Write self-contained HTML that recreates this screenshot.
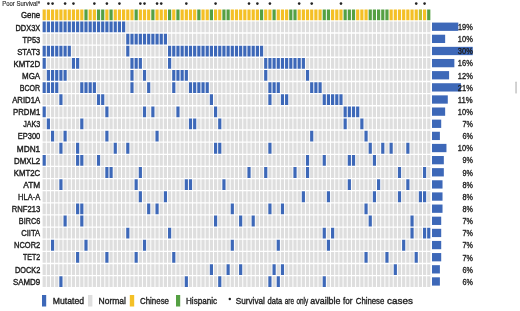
<!DOCTYPE html>
<html><head><meta charset="utf-8"><title>Oncoprint</title>
<style>
html,body{margin:0;padding:0;background:#fff;}
body{width:520px;height:311px;overflow:hidden;}
svg{display:block;}
text{font-family:"Liberation Sans",sans-serif;fill:#1e1e1e;}
.lab{font-size:8.8px;stroke:#1e1e1e;stroke-width:0.4px;}
.pct{font-size:8.8px;stroke:#1e1e1e;stroke-width:0.35px;}
.ps{font-size:6.6px;fill:#333;stroke:#333;stroke-width:0.18px;}
.leg{font-size:8.8px;stroke:#1e1e1e;stroke-width:0.35px;}
</style></head><body>
<svg width="520" height="311" viewBox="0 0 520 311">
<rect x="0" y="0" width="520" height="311" fill="#fff"/>
<path fill="#3D68B8" d="M42.60 21.53h3.2v10.8h-3.2zM46.78 21.53h3.2v10.8h-3.2zM50.96 21.53h3.2v10.8h-3.2zM55.14 21.53h3.2v10.8h-3.2zM59.32 21.53h3.2v10.8h-3.2zM63.50 21.53h3.2v10.8h-3.2zM67.68 21.53h3.2v10.8h-3.2zM71.86 21.53h3.2v10.8h-3.2zM76.04 21.53h3.2v10.8h-3.2zM80.22 21.53h3.2v10.8h-3.2zM84.40 21.53h3.2v10.8h-3.2zM88.58 21.53h3.2v10.8h-3.2zM92.76 21.53h3.2v10.8h-3.2zM96.94 21.53h3.2v10.8h-3.2zM101.12 21.53h3.2v10.8h-3.2zM105.30 21.53h3.2v10.8h-3.2zM109.48 21.53h3.2v10.8h-3.2zM113.66 21.53h3.2v10.8h-3.2zM117.84 21.53h3.2v10.8h-3.2zM122.02 21.53h3.2v10.8h-3.2zM126.20 33.66h3.2v10.8h-3.2zM130.38 33.66h3.2v10.8h-3.2zM134.56 33.66h3.2v10.8h-3.2zM138.74 33.66h3.2v10.8h-3.2zM142.92 33.66h3.2v10.8h-3.2zM147.10 33.66h3.2v10.8h-3.2zM151.28 33.66h3.2v10.8h-3.2zM155.46 33.66h3.2v10.8h-3.2zM159.64 33.66h3.2v10.8h-3.2zM163.82 33.66h3.2v10.8h-3.2zM42.60 45.79h3.2v10.8h-3.2zM46.78 45.79h3.2v10.8h-3.2zM50.96 45.79h3.2v10.8h-3.2zM55.14 45.79h3.2v10.8h-3.2zM59.32 45.79h3.2v10.8h-3.2zM63.50 45.79h3.2v10.8h-3.2zM67.68 45.79h3.2v10.8h-3.2zM126.20 45.79h3.2v10.8h-3.2zM168.00 45.79h3.2v10.8h-3.2zM172.18 45.79h3.2v10.8h-3.2zM176.36 45.79h3.2v10.8h-3.2zM180.54 45.79h3.2v10.8h-3.2zM184.72 45.79h3.2v10.8h-3.2zM188.90 45.79h3.2v10.8h-3.2zM193.08 45.79h3.2v10.8h-3.2zM197.26 45.79h3.2v10.8h-3.2zM201.44 45.79h3.2v10.8h-3.2zM205.62 45.79h3.2v10.8h-3.2zM209.80 45.79h3.2v10.8h-3.2zM213.98 45.79h3.2v10.8h-3.2zM218.16 45.79h3.2v10.8h-3.2zM222.34 45.79h3.2v10.8h-3.2zM226.52 45.79h3.2v10.8h-3.2zM230.70 45.79h3.2v10.8h-3.2zM234.88 45.79h3.2v10.8h-3.2zM239.06 45.79h3.2v10.8h-3.2zM243.24 45.79h3.2v10.8h-3.2zM247.42 45.79h3.2v10.8h-3.2zM251.60 45.79h3.2v10.8h-3.2zM255.78 45.79h3.2v10.8h-3.2zM259.96 45.79h3.2v10.8h-3.2zM42.60 57.92h3.2v10.8h-3.2zM71.86 57.92h3.2v10.8h-3.2zM76.04 57.92h3.2v10.8h-3.2zM130.38 57.92h3.2v10.8h-3.2zM134.56 57.92h3.2v10.8h-3.2zM138.74 57.92h3.2v10.8h-3.2zM168.00 57.92h3.2v10.8h-3.2zM264.14 57.92h3.2v10.8h-3.2zM268.32 57.92h3.2v10.8h-3.2zM272.50 57.92h3.2v10.8h-3.2zM276.68 57.92h3.2v10.8h-3.2zM280.86 57.92h3.2v10.8h-3.2zM285.04 57.92h3.2v10.8h-3.2zM289.22 57.92h3.2v10.8h-3.2zM293.40 57.92h3.2v10.8h-3.2zM297.58 57.92h3.2v10.8h-3.2zM301.76 57.92h3.2v10.8h-3.2zM46.78 70.05h3.2v10.8h-3.2zM50.96 70.05h3.2v10.8h-3.2zM55.14 70.05h3.2v10.8h-3.2zM59.32 70.05h3.2v10.8h-3.2zM63.50 70.05h3.2v10.8h-3.2zM130.38 70.05h3.2v10.8h-3.2zM142.92 70.05h3.2v10.8h-3.2zM172.18 70.05h3.2v10.8h-3.2zM176.36 70.05h3.2v10.8h-3.2zM180.54 70.05h3.2v10.8h-3.2zM184.72 70.05h3.2v10.8h-3.2zM264.14 70.05h3.2v10.8h-3.2zM305.94 70.05h3.2v10.8h-3.2zM42.60 82.18h3.2v10.8h-3.2zM46.78 82.18h3.2v10.8h-3.2zM50.96 82.18h3.2v10.8h-3.2zM55.14 82.18h3.2v10.8h-3.2zM80.22 82.18h3.2v10.8h-3.2zM84.40 82.18h3.2v10.8h-3.2zM88.58 82.18h3.2v10.8h-3.2zM92.76 82.18h3.2v10.8h-3.2zM130.38 82.18h3.2v10.8h-3.2zM147.10 82.18h3.2v10.8h-3.2zM172.18 82.18h3.2v10.8h-3.2zM188.90 82.18h3.2v10.8h-3.2zM193.08 82.18h3.2v10.8h-3.2zM197.26 82.18h3.2v10.8h-3.2zM201.44 82.18h3.2v10.8h-3.2zM205.62 82.18h3.2v10.8h-3.2zM268.32 82.18h3.2v10.8h-3.2zM272.50 82.18h3.2v10.8h-3.2zM276.68 82.18h3.2v10.8h-3.2zM310.12 82.18h3.2v10.8h-3.2zM314.30 82.18h3.2v10.8h-3.2zM318.48 82.18h3.2v10.8h-3.2zM59.32 94.31h3.2v10.8h-3.2zM96.94 94.31h3.2v10.8h-3.2zM101.12 94.31h3.2v10.8h-3.2zM209.80 94.31h3.2v10.8h-3.2zM268.32 94.31h3.2v10.8h-3.2zM280.86 94.31h3.2v10.8h-3.2zM285.04 94.31h3.2v10.8h-3.2zM322.66 94.31h3.2v10.8h-3.2zM326.84 94.31h3.2v10.8h-3.2zM331.02 94.31h3.2v10.8h-3.2zM335.20 94.31h3.2v10.8h-3.2zM339.38 94.31h3.2v10.8h-3.2zM42.60 106.44h3.2v10.8h-3.2zM105.30 106.44h3.2v10.8h-3.2zM142.92 106.44h3.2v10.8h-3.2zM151.28 106.44h3.2v10.8h-3.2zM176.36 106.44h3.2v10.8h-3.2zM213.98 106.44h3.2v10.8h-3.2zM343.56 106.44h3.2v10.8h-3.2zM347.74 106.44h3.2v10.8h-3.2zM351.92 106.44h3.2v10.8h-3.2zM356.10 106.44h3.2v10.8h-3.2zM46.78 118.57h3.2v10.8h-3.2zM80.22 118.57h3.2v10.8h-3.2zM188.90 118.57h3.2v10.8h-3.2zM193.08 118.57h3.2v10.8h-3.2zM218.16 118.57h3.2v10.8h-3.2zM343.56 118.57h3.2v10.8h-3.2zM360.28 118.57h3.2v10.8h-3.2zM50.96 130.70h3.2v10.8h-3.2zM63.50 130.70h3.2v10.8h-3.2zM105.30 130.70h3.2v10.8h-3.2zM155.46 130.70h3.2v10.8h-3.2zM310.12 130.70h3.2v10.8h-3.2zM364.46 130.70h3.2v10.8h-3.2zM59.32 142.83h3.2v10.8h-3.2zM76.04 142.83h3.2v10.8h-3.2zM113.66 142.83h3.2v10.8h-3.2zM126.20 142.83h3.2v10.8h-3.2zM213.98 142.83h3.2v10.8h-3.2zM218.16 142.83h3.2v10.8h-3.2zM268.32 142.83h3.2v10.8h-3.2zM368.64 142.83h3.2v10.8h-3.2zM381.18 142.83h3.2v10.8h-3.2zM389.54 142.83h3.2v10.8h-3.2zM406.26 142.83h3.2v10.8h-3.2zM42.60 154.96h3.2v10.8h-3.2zM76.04 154.96h3.2v10.8h-3.2zM80.22 154.96h3.2v10.8h-3.2zM96.94 154.96h3.2v10.8h-3.2zM305.94 154.96h3.2v10.8h-3.2zM322.66 154.96h3.2v10.8h-3.2zM347.74 154.96h3.2v10.8h-3.2zM351.92 154.96h3.2v10.8h-3.2zM372.82 154.96h3.2v10.8h-3.2zM105.30 167.09h3.2v10.8h-3.2zM109.48 167.09h3.2v10.8h-3.2zM138.74 167.09h3.2v10.8h-3.2zM247.42 167.09h3.2v10.8h-3.2zM264.14 167.09h3.2v10.8h-3.2zM293.40 167.09h3.2v10.8h-3.2zM305.94 167.09h3.2v10.8h-3.2zM397.90 167.09h3.2v10.8h-3.2zM422.98 167.09h3.2v10.8h-3.2zM59.32 179.22h3.2v10.8h-3.2zM134.56 179.22h3.2v10.8h-3.2zM184.72 179.22h3.2v10.8h-3.2zM188.90 179.22h3.2v10.8h-3.2zM222.34 179.22h3.2v10.8h-3.2zM347.74 179.22h3.2v10.8h-3.2zM377.00 179.22h3.2v10.8h-3.2zM406.26 179.22h3.2v10.8h-3.2zM138.74 191.35h3.2v10.8h-3.2zM163.82 191.35h3.2v10.8h-3.2zM301.76 191.35h3.2v10.8h-3.2zM326.84 191.35h3.2v10.8h-3.2zM372.82 191.35h3.2v10.8h-3.2zM397.90 191.35h3.2v10.8h-3.2zM418.80 191.35h3.2v10.8h-3.2zM422.98 191.35h3.2v10.8h-3.2zM76.04 203.48h3.2v10.8h-3.2zM80.22 203.48h3.2v10.8h-3.2zM147.10 203.48h3.2v10.8h-3.2zM155.46 203.48h3.2v10.8h-3.2zM230.70 203.48h3.2v10.8h-3.2zM268.32 203.48h3.2v10.8h-3.2zM280.86 203.48h3.2v10.8h-3.2zM364.46 203.48h3.2v10.8h-3.2zM63.50 215.61h3.2v10.8h-3.2zM80.22 215.61h3.2v10.8h-3.2zM213.98 215.61h3.2v10.8h-3.2zM239.06 215.61h3.2v10.8h-3.2zM251.60 215.61h3.2v10.8h-3.2zM368.64 215.61h3.2v10.8h-3.2zM410.44 215.61h3.2v10.8h-3.2zM126.20 227.74h3.2v10.8h-3.2zM168.00 227.74h3.2v10.8h-3.2zM322.66 227.74h3.2v10.8h-3.2zM331.02 227.74h3.2v10.8h-3.2zM410.44 227.74h3.2v10.8h-3.2zM422.98 227.74h3.2v10.8h-3.2zM427.16 227.74h3.2v10.8h-3.2zM50.96 239.87h3.2v10.8h-3.2zM84.40 239.87h3.2v10.8h-3.2zM142.92 239.87h3.2v10.8h-3.2zM230.70 239.87h3.2v10.8h-3.2zM276.68 239.87h3.2v10.8h-3.2zM326.84 239.87h3.2v10.8h-3.2zM402.08 239.87h3.2v10.8h-3.2zM76.04 252.00h3.2v10.8h-3.2zM105.30 252.00h3.2v10.8h-3.2zM134.56 252.00h3.2v10.8h-3.2zM172.18 252.00h3.2v10.8h-3.2zM364.46 252.00h3.2v10.8h-3.2zM385.36 252.00h3.2v10.8h-3.2zM414.62 252.00h3.2v10.8h-3.2zM209.80 264.13h3.2v10.8h-3.2zM226.52 264.13h3.2v10.8h-3.2zM239.06 264.13h3.2v10.8h-3.2zM272.50 264.13h3.2v10.8h-3.2zM280.86 264.13h3.2v10.8h-3.2zM393.72 264.13h3.2v10.8h-3.2zM59.32 276.26h3.2v10.8h-3.2zM184.72 276.26h3.2v10.8h-3.2zM218.16 276.26h3.2v10.8h-3.2zM268.32 276.26h3.2v10.8h-3.2zM276.68 276.26h3.2v10.8h-3.2zM322.66 276.26h3.2v10.8h-3.2z"/>
<path fill="#DEDEDE" d="M126.20 21.53h3.2v10.8h-3.2zM130.38 21.53h3.2v10.8h-3.2zM134.56 21.53h3.2v10.8h-3.2zM138.74 21.53h3.2v10.8h-3.2zM142.92 21.53h3.2v10.8h-3.2zM147.10 21.53h3.2v10.8h-3.2zM151.28 21.53h3.2v10.8h-3.2zM155.46 21.53h3.2v10.8h-3.2zM159.64 21.53h3.2v10.8h-3.2zM163.82 21.53h3.2v10.8h-3.2zM168.00 21.53h3.2v10.8h-3.2zM172.18 21.53h3.2v10.8h-3.2zM176.36 21.53h3.2v10.8h-3.2zM180.54 21.53h3.2v10.8h-3.2zM184.72 21.53h3.2v10.8h-3.2zM188.90 21.53h3.2v10.8h-3.2zM193.08 21.53h3.2v10.8h-3.2zM197.26 21.53h3.2v10.8h-3.2zM201.44 21.53h3.2v10.8h-3.2zM205.62 21.53h3.2v10.8h-3.2zM209.80 21.53h3.2v10.8h-3.2zM213.98 21.53h3.2v10.8h-3.2zM218.16 21.53h3.2v10.8h-3.2zM222.34 21.53h3.2v10.8h-3.2zM226.52 21.53h3.2v10.8h-3.2zM230.70 21.53h3.2v10.8h-3.2zM234.88 21.53h3.2v10.8h-3.2zM239.06 21.53h3.2v10.8h-3.2zM243.24 21.53h3.2v10.8h-3.2zM247.42 21.53h3.2v10.8h-3.2zM251.60 21.53h3.2v10.8h-3.2zM255.78 21.53h3.2v10.8h-3.2zM259.96 21.53h3.2v10.8h-3.2zM264.14 21.53h3.2v10.8h-3.2zM268.32 21.53h3.2v10.8h-3.2zM272.50 21.53h3.2v10.8h-3.2zM276.68 21.53h3.2v10.8h-3.2zM280.86 21.53h3.2v10.8h-3.2zM285.04 21.53h3.2v10.8h-3.2zM289.22 21.53h3.2v10.8h-3.2zM293.40 21.53h3.2v10.8h-3.2zM297.58 21.53h3.2v10.8h-3.2zM301.76 21.53h3.2v10.8h-3.2zM305.94 21.53h3.2v10.8h-3.2zM310.12 21.53h3.2v10.8h-3.2zM314.30 21.53h3.2v10.8h-3.2zM318.48 21.53h3.2v10.8h-3.2zM322.66 21.53h3.2v10.8h-3.2zM326.84 21.53h3.2v10.8h-3.2zM331.02 21.53h3.2v10.8h-3.2zM335.20 21.53h3.2v10.8h-3.2zM339.38 21.53h3.2v10.8h-3.2zM343.56 21.53h3.2v10.8h-3.2zM347.74 21.53h3.2v10.8h-3.2zM351.92 21.53h3.2v10.8h-3.2zM356.10 21.53h3.2v10.8h-3.2zM360.28 21.53h3.2v10.8h-3.2zM364.46 21.53h3.2v10.8h-3.2zM368.64 21.53h3.2v10.8h-3.2zM372.82 21.53h3.2v10.8h-3.2zM377.00 21.53h3.2v10.8h-3.2zM381.18 21.53h3.2v10.8h-3.2zM385.36 21.53h3.2v10.8h-3.2zM389.54 21.53h3.2v10.8h-3.2zM393.72 21.53h3.2v10.8h-3.2zM397.90 21.53h3.2v10.8h-3.2zM402.08 21.53h3.2v10.8h-3.2zM406.26 21.53h3.2v10.8h-3.2zM410.44 21.53h3.2v10.8h-3.2zM414.62 21.53h3.2v10.8h-3.2zM418.80 21.53h3.2v10.8h-3.2zM422.98 21.53h3.2v10.8h-3.2zM427.16 21.53h3.2v10.8h-3.2zM42.60 33.66h3.2v10.8h-3.2zM46.78 33.66h3.2v10.8h-3.2zM50.96 33.66h3.2v10.8h-3.2zM55.14 33.66h3.2v10.8h-3.2zM59.32 33.66h3.2v10.8h-3.2zM63.50 33.66h3.2v10.8h-3.2zM67.68 33.66h3.2v10.8h-3.2zM71.86 33.66h3.2v10.8h-3.2zM76.04 33.66h3.2v10.8h-3.2zM80.22 33.66h3.2v10.8h-3.2zM84.40 33.66h3.2v10.8h-3.2zM88.58 33.66h3.2v10.8h-3.2zM92.76 33.66h3.2v10.8h-3.2zM96.94 33.66h3.2v10.8h-3.2zM101.12 33.66h3.2v10.8h-3.2zM105.30 33.66h3.2v10.8h-3.2zM109.48 33.66h3.2v10.8h-3.2zM113.66 33.66h3.2v10.8h-3.2zM117.84 33.66h3.2v10.8h-3.2zM122.02 33.66h3.2v10.8h-3.2zM168.00 33.66h3.2v10.8h-3.2zM172.18 33.66h3.2v10.8h-3.2zM176.36 33.66h3.2v10.8h-3.2zM180.54 33.66h3.2v10.8h-3.2zM184.72 33.66h3.2v10.8h-3.2zM188.90 33.66h3.2v10.8h-3.2zM193.08 33.66h3.2v10.8h-3.2zM197.26 33.66h3.2v10.8h-3.2zM201.44 33.66h3.2v10.8h-3.2zM205.62 33.66h3.2v10.8h-3.2zM209.80 33.66h3.2v10.8h-3.2zM213.98 33.66h3.2v10.8h-3.2zM218.16 33.66h3.2v10.8h-3.2zM222.34 33.66h3.2v10.8h-3.2zM226.52 33.66h3.2v10.8h-3.2zM230.70 33.66h3.2v10.8h-3.2zM234.88 33.66h3.2v10.8h-3.2zM239.06 33.66h3.2v10.8h-3.2zM243.24 33.66h3.2v10.8h-3.2zM247.42 33.66h3.2v10.8h-3.2zM251.60 33.66h3.2v10.8h-3.2zM255.78 33.66h3.2v10.8h-3.2zM259.96 33.66h3.2v10.8h-3.2zM264.14 33.66h3.2v10.8h-3.2zM268.32 33.66h3.2v10.8h-3.2zM272.50 33.66h3.2v10.8h-3.2zM276.68 33.66h3.2v10.8h-3.2zM280.86 33.66h3.2v10.8h-3.2zM285.04 33.66h3.2v10.8h-3.2zM289.22 33.66h3.2v10.8h-3.2zM293.40 33.66h3.2v10.8h-3.2zM297.58 33.66h3.2v10.8h-3.2zM301.76 33.66h3.2v10.8h-3.2zM305.94 33.66h3.2v10.8h-3.2zM310.12 33.66h3.2v10.8h-3.2zM314.30 33.66h3.2v10.8h-3.2zM318.48 33.66h3.2v10.8h-3.2zM322.66 33.66h3.2v10.8h-3.2zM326.84 33.66h3.2v10.8h-3.2zM331.02 33.66h3.2v10.8h-3.2zM335.20 33.66h3.2v10.8h-3.2zM339.38 33.66h3.2v10.8h-3.2zM343.56 33.66h3.2v10.8h-3.2zM347.74 33.66h3.2v10.8h-3.2zM351.92 33.66h3.2v10.8h-3.2zM356.10 33.66h3.2v10.8h-3.2zM360.28 33.66h3.2v10.8h-3.2zM364.46 33.66h3.2v10.8h-3.2zM368.64 33.66h3.2v10.8h-3.2zM372.82 33.66h3.2v10.8h-3.2zM377.00 33.66h3.2v10.8h-3.2zM381.18 33.66h3.2v10.8h-3.2zM385.36 33.66h3.2v10.8h-3.2zM389.54 33.66h3.2v10.8h-3.2zM393.72 33.66h3.2v10.8h-3.2zM397.90 33.66h3.2v10.8h-3.2zM402.08 33.66h3.2v10.8h-3.2zM406.26 33.66h3.2v10.8h-3.2zM410.44 33.66h3.2v10.8h-3.2zM414.62 33.66h3.2v10.8h-3.2zM418.80 33.66h3.2v10.8h-3.2zM422.98 33.66h3.2v10.8h-3.2zM427.16 33.66h3.2v10.8h-3.2zM71.86 45.79h3.2v10.8h-3.2zM76.04 45.79h3.2v10.8h-3.2zM80.22 45.79h3.2v10.8h-3.2zM84.40 45.79h3.2v10.8h-3.2zM88.58 45.79h3.2v10.8h-3.2zM92.76 45.79h3.2v10.8h-3.2zM96.94 45.79h3.2v10.8h-3.2zM101.12 45.79h3.2v10.8h-3.2zM105.30 45.79h3.2v10.8h-3.2zM109.48 45.79h3.2v10.8h-3.2zM113.66 45.79h3.2v10.8h-3.2zM117.84 45.79h3.2v10.8h-3.2zM122.02 45.79h3.2v10.8h-3.2zM130.38 45.79h3.2v10.8h-3.2zM134.56 45.79h3.2v10.8h-3.2zM138.74 45.79h3.2v10.8h-3.2zM142.92 45.79h3.2v10.8h-3.2zM147.10 45.79h3.2v10.8h-3.2zM151.28 45.79h3.2v10.8h-3.2zM155.46 45.79h3.2v10.8h-3.2zM159.64 45.79h3.2v10.8h-3.2zM163.82 45.79h3.2v10.8h-3.2zM264.14 45.79h3.2v10.8h-3.2zM268.32 45.79h3.2v10.8h-3.2zM272.50 45.79h3.2v10.8h-3.2zM276.68 45.79h3.2v10.8h-3.2zM280.86 45.79h3.2v10.8h-3.2zM285.04 45.79h3.2v10.8h-3.2zM289.22 45.79h3.2v10.8h-3.2zM293.40 45.79h3.2v10.8h-3.2zM297.58 45.79h3.2v10.8h-3.2zM301.76 45.79h3.2v10.8h-3.2zM305.94 45.79h3.2v10.8h-3.2zM310.12 45.79h3.2v10.8h-3.2zM314.30 45.79h3.2v10.8h-3.2zM318.48 45.79h3.2v10.8h-3.2zM322.66 45.79h3.2v10.8h-3.2zM326.84 45.79h3.2v10.8h-3.2zM331.02 45.79h3.2v10.8h-3.2zM335.20 45.79h3.2v10.8h-3.2zM339.38 45.79h3.2v10.8h-3.2zM343.56 45.79h3.2v10.8h-3.2zM347.74 45.79h3.2v10.8h-3.2zM351.92 45.79h3.2v10.8h-3.2zM356.10 45.79h3.2v10.8h-3.2zM360.28 45.79h3.2v10.8h-3.2zM364.46 45.79h3.2v10.8h-3.2zM368.64 45.79h3.2v10.8h-3.2zM372.82 45.79h3.2v10.8h-3.2zM377.00 45.79h3.2v10.8h-3.2zM381.18 45.79h3.2v10.8h-3.2zM385.36 45.79h3.2v10.8h-3.2zM389.54 45.79h3.2v10.8h-3.2zM393.72 45.79h3.2v10.8h-3.2zM397.90 45.79h3.2v10.8h-3.2zM402.08 45.79h3.2v10.8h-3.2zM406.26 45.79h3.2v10.8h-3.2zM410.44 45.79h3.2v10.8h-3.2zM414.62 45.79h3.2v10.8h-3.2zM418.80 45.79h3.2v10.8h-3.2zM422.98 45.79h3.2v10.8h-3.2zM427.16 45.79h3.2v10.8h-3.2zM46.78 57.92h3.2v10.8h-3.2zM50.96 57.92h3.2v10.8h-3.2zM55.14 57.92h3.2v10.8h-3.2zM59.32 57.92h3.2v10.8h-3.2zM63.50 57.92h3.2v10.8h-3.2zM67.68 57.92h3.2v10.8h-3.2zM80.22 57.92h3.2v10.8h-3.2zM84.40 57.92h3.2v10.8h-3.2zM88.58 57.92h3.2v10.8h-3.2zM92.76 57.92h3.2v10.8h-3.2zM96.94 57.92h3.2v10.8h-3.2zM101.12 57.92h3.2v10.8h-3.2zM105.30 57.92h3.2v10.8h-3.2zM109.48 57.92h3.2v10.8h-3.2zM113.66 57.92h3.2v10.8h-3.2zM117.84 57.92h3.2v10.8h-3.2zM122.02 57.92h3.2v10.8h-3.2zM126.20 57.92h3.2v10.8h-3.2zM142.92 57.92h3.2v10.8h-3.2zM147.10 57.92h3.2v10.8h-3.2zM151.28 57.92h3.2v10.8h-3.2zM155.46 57.92h3.2v10.8h-3.2zM159.64 57.92h3.2v10.8h-3.2zM163.82 57.92h3.2v10.8h-3.2zM172.18 57.92h3.2v10.8h-3.2zM176.36 57.92h3.2v10.8h-3.2zM180.54 57.92h3.2v10.8h-3.2zM184.72 57.92h3.2v10.8h-3.2zM188.90 57.92h3.2v10.8h-3.2zM193.08 57.92h3.2v10.8h-3.2zM197.26 57.92h3.2v10.8h-3.2zM201.44 57.92h3.2v10.8h-3.2zM205.62 57.92h3.2v10.8h-3.2zM209.80 57.92h3.2v10.8h-3.2zM213.98 57.92h3.2v10.8h-3.2zM218.16 57.92h3.2v10.8h-3.2zM222.34 57.92h3.2v10.8h-3.2zM226.52 57.92h3.2v10.8h-3.2zM230.70 57.92h3.2v10.8h-3.2zM234.88 57.92h3.2v10.8h-3.2zM239.06 57.92h3.2v10.8h-3.2zM243.24 57.92h3.2v10.8h-3.2zM247.42 57.92h3.2v10.8h-3.2zM251.60 57.92h3.2v10.8h-3.2zM255.78 57.92h3.2v10.8h-3.2zM259.96 57.92h3.2v10.8h-3.2zM305.94 57.92h3.2v10.8h-3.2zM310.12 57.92h3.2v10.8h-3.2zM314.30 57.92h3.2v10.8h-3.2zM318.48 57.92h3.2v10.8h-3.2zM322.66 57.92h3.2v10.8h-3.2zM326.84 57.92h3.2v10.8h-3.2zM331.02 57.92h3.2v10.8h-3.2zM335.20 57.92h3.2v10.8h-3.2zM339.38 57.92h3.2v10.8h-3.2zM343.56 57.92h3.2v10.8h-3.2zM347.74 57.92h3.2v10.8h-3.2zM351.92 57.92h3.2v10.8h-3.2zM356.10 57.92h3.2v10.8h-3.2zM360.28 57.92h3.2v10.8h-3.2zM364.46 57.92h3.2v10.8h-3.2zM368.64 57.92h3.2v10.8h-3.2zM372.82 57.92h3.2v10.8h-3.2zM377.00 57.92h3.2v10.8h-3.2zM381.18 57.92h3.2v10.8h-3.2zM385.36 57.92h3.2v10.8h-3.2zM389.54 57.92h3.2v10.8h-3.2zM393.72 57.92h3.2v10.8h-3.2zM397.90 57.92h3.2v10.8h-3.2zM402.08 57.92h3.2v10.8h-3.2zM406.26 57.92h3.2v10.8h-3.2zM410.44 57.92h3.2v10.8h-3.2zM414.62 57.92h3.2v10.8h-3.2zM418.80 57.92h3.2v10.8h-3.2zM422.98 57.92h3.2v10.8h-3.2zM427.16 57.92h3.2v10.8h-3.2zM42.60 70.05h3.2v10.8h-3.2zM67.68 70.05h3.2v10.8h-3.2zM71.86 70.05h3.2v10.8h-3.2zM76.04 70.05h3.2v10.8h-3.2zM80.22 70.05h3.2v10.8h-3.2zM84.40 70.05h3.2v10.8h-3.2zM88.58 70.05h3.2v10.8h-3.2zM92.76 70.05h3.2v10.8h-3.2zM96.94 70.05h3.2v10.8h-3.2zM101.12 70.05h3.2v10.8h-3.2zM105.30 70.05h3.2v10.8h-3.2zM109.48 70.05h3.2v10.8h-3.2zM113.66 70.05h3.2v10.8h-3.2zM117.84 70.05h3.2v10.8h-3.2zM122.02 70.05h3.2v10.8h-3.2zM126.20 70.05h3.2v10.8h-3.2zM134.56 70.05h3.2v10.8h-3.2zM138.74 70.05h3.2v10.8h-3.2zM147.10 70.05h3.2v10.8h-3.2zM151.28 70.05h3.2v10.8h-3.2zM155.46 70.05h3.2v10.8h-3.2zM159.64 70.05h3.2v10.8h-3.2zM163.82 70.05h3.2v10.8h-3.2zM168.00 70.05h3.2v10.8h-3.2zM188.90 70.05h3.2v10.8h-3.2zM193.08 70.05h3.2v10.8h-3.2zM197.26 70.05h3.2v10.8h-3.2zM201.44 70.05h3.2v10.8h-3.2zM205.62 70.05h3.2v10.8h-3.2zM209.80 70.05h3.2v10.8h-3.2zM213.98 70.05h3.2v10.8h-3.2zM218.16 70.05h3.2v10.8h-3.2zM222.34 70.05h3.2v10.8h-3.2zM226.52 70.05h3.2v10.8h-3.2zM230.70 70.05h3.2v10.8h-3.2zM234.88 70.05h3.2v10.8h-3.2zM239.06 70.05h3.2v10.8h-3.2zM243.24 70.05h3.2v10.8h-3.2zM247.42 70.05h3.2v10.8h-3.2zM251.60 70.05h3.2v10.8h-3.2zM255.78 70.05h3.2v10.8h-3.2zM259.96 70.05h3.2v10.8h-3.2zM268.32 70.05h3.2v10.8h-3.2zM272.50 70.05h3.2v10.8h-3.2zM276.68 70.05h3.2v10.8h-3.2zM280.86 70.05h3.2v10.8h-3.2zM285.04 70.05h3.2v10.8h-3.2zM289.22 70.05h3.2v10.8h-3.2zM293.40 70.05h3.2v10.8h-3.2zM297.58 70.05h3.2v10.8h-3.2zM301.76 70.05h3.2v10.8h-3.2zM310.12 70.05h3.2v10.8h-3.2zM314.30 70.05h3.2v10.8h-3.2zM318.48 70.05h3.2v10.8h-3.2zM322.66 70.05h3.2v10.8h-3.2zM326.84 70.05h3.2v10.8h-3.2zM331.02 70.05h3.2v10.8h-3.2zM335.20 70.05h3.2v10.8h-3.2zM339.38 70.05h3.2v10.8h-3.2zM343.56 70.05h3.2v10.8h-3.2zM347.74 70.05h3.2v10.8h-3.2zM351.92 70.05h3.2v10.8h-3.2zM356.10 70.05h3.2v10.8h-3.2zM360.28 70.05h3.2v10.8h-3.2zM364.46 70.05h3.2v10.8h-3.2zM368.64 70.05h3.2v10.8h-3.2zM372.82 70.05h3.2v10.8h-3.2zM377.00 70.05h3.2v10.8h-3.2zM381.18 70.05h3.2v10.8h-3.2zM385.36 70.05h3.2v10.8h-3.2zM389.54 70.05h3.2v10.8h-3.2zM393.72 70.05h3.2v10.8h-3.2zM397.90 70.05h3.2v10.8h-3.2zM402.08 70.05h3.2v10.8h-3.2zM406.26 70.05h3.2v10.8h-3.2zM410.44 70.05h3.2v10.8h-3.2zM414.62 70.05h3.2v10.8h-3.2zM418.80 70.05h3.2v10.8h-3.2zM422.98 70.05h3.2v10.8h-3.2zM427.16 70.05h3.2v10.8h-3.2zM59.32 82.18h3.2v10.8h-3.2zM63.50 82.18h3.2v10.8h-3.2zM67.68 82.18h3.2v10.8h-3.2zM71.86 82.18h3.2v10.8h-3.2zM76.04 82.18h3.2v10.8h-3.2zM96.94 82.18h3.2v10.8h-3.2zM101.12 82.18h3.2v10.8h-3.2zM105.30 82.18h3.2v10.8h-3.2zM109.48 82.18h3.2v10.8h-3.2zM113.66 82.18h3.2v10.8h-3.2zM117.84 82.18h3.2v10.8h-3.2zM122.02 82.18h3.2v10.8h-3.2zM126.20 82.18h3.2v10.8h-3.2zM134.56 82.18h3.2v10.8h-3.2zM138.74 82.18h3.2v10.8h-3.2zM142.92 82.18h3.2v10.8h-3.2zM151.28 82.18h3.2v10.8h-3.2zM155.46 82.18h3.2v10.8h-3.2zM159.64 82.18h3.2v10.8h-3.2zM163.82 82.18h3.2v10.8h-3.2zM168.00 82.18h3.2v10.8h-3.2zM176.36 82.18h3.2v10.8h-3.2zM180.54 82.18h3.2v10.8h-3.2zM184.72 82.18h3.2v10.8h-3.2zM209.80 82.18h3.2v10.8h-3.2zM213.98 82.18h3.2v10.8h-3.2zM218.16 82.18h3.2v10.8h-3.2zM222.34 82.18h3.2v10.8h-3.2zM226.52 82.18h3.2v10.8h-3.2zM230.70 82.18h3.2v10.8h-3.2zM234.88 82.18h3.2v10.8h-3.2zM239.06 82.18h3.2v10.8h-3.2zM243.24 82.18h3.2v10.8h-3.2zM247.42 82.18h3.2v10.8h-3.2zM251.60 82.18h3.2v10.8h-3.2zM255.78 82.18h3.2v10.8h-3.2zM259.96 82.18h3.2v10.8h-3.2zM264.14 82.18h3.2v10.8h-3.2zM280.86 82.18h3.2v10.8h-3.2zM285.04 82.18h3.2v10.8h-3.2zM289.22 82.18h3.2v10.8h-3.2zM293.40 82.18h3.2v10.8h-3.2zM297.58 82.18h3.2v10.8h-3.2zM301.76 82.18h3.2v10.8h-3.2zM305.94 82.18h3.2v10.8h-3.2zM322.66 82.18h3.2v10.8h-3.2zM326.84 82.18h3.2v10.8h-3.2zM331.02 82.18h3.2v10.8h-3.2zM335.20 82.18h3.2v10.8h-3.2zM339.38 82.18h3.2v10.8h-3.2zM343.56 82.18h3.2v10.8h-3.2zM347.74 82.18h3.2v10.8h-3.2zM351.92 82.18h3.2v10.8h-3.2zM356.10 82.18h3.2v10.8h-3.2zM360.28 82.18h3.2v10.8h-3.2zM364.46 82.18h3.2v10.8h-3.2zM368.64 82.18h3.2v10.8h-3.2zM372.82 82.18h3.2v10.8h-3.2zM377.00 82.18h3.2v10.8h-3.2zM381.18 82.18h3.2v10.8h-3.2zM385.36 82.18h3.2v10.8h-3.2zM389.54 82.18h3.2v10.8h-3.2zM393.72 82.18h3.2v10.8h-3.2zM397.90 82.18h3.2v10.8h-3.2zM402.08 82.18h3.2v10.8h-3.2zM406.26 82.18h3.2v10.8h-3.2zM410.44 82.18h3.2v10.8h-3.2zM414.62 82.18h3.2v10.8h-3.2zM418.80 82.18h3.2v10.8h-3.2zM422.98 82.18h3.2v10.8h-3.2zM427.16 82.18h3.2v10.8h-3.2zM42.60 94.31h3.2v10.8h-3.2zM46.78 94.31h3.2v10.8h-3.2zM50.96 94.31h3.2v10.8h-3.2zM55.14 94.31h3.2v10.8h-3.2zM63.50 94.31h3.2v10.8h-3.2zM67.68 94.31h3.2v10.8h-3.2zM71.86 94.31h3.2v10.8h-3.2zM76.04 94.31h3.2v10.8h-3.2zM80.22 94.31h3.2v10.8h-3.2zM84.40 94.31h3.2v10.8h-3.2zM88.58 94.31h3.2v10.8h-3.2zM92.76 94.31h3.2v10.8h-3.2zM105.30 94.31h3.2v10.8h-3.2zM109.48 94.31h3.2v10.8h-3.2zM113.66 94.31h3.2v10.8h-3.2zM117.84 94.31h3.2v10.8h-3.2zM122.02 94.31h3.2v10.8h-3.2zM126.20 94.31h3.2v10.8h-3.2zM130.38 94.31h3.2v10.8h-3.2zM134.56 94.31h3.2v10.8h-3.2zM138.74 94.31h3.2v10.8h-3.2zM142.92 94.31h3.2v10.8h-3.2zM147.10 94.31h3.2v10.8h-3.2zM151.28 94.31h3.2v10.8h-3.2zM155.46 94.31h3.2v10.8h-3.2zM159.64 94.31h3.2v10.8h-3.2zM163.82 94.31h3.2v10.8h-3.2zM168.00 94.31h3.2v10.8h-3.2zM172.18 94.31h3.2v10.8h-3.2zM176.36 94.31h3.2v10.8h-3.2zM180.54 94.31h3.2v10.8h-3.2zM184.72 94.31h3.2v10.8h-3.2zM188.90 94.31h3.2v10.8h-3.2zM193.08 94.31h3.2v10.8h-3.2zM197.26 94.31h3.2v10.8h-3.2zM201.44 94.31h3.2v10.8h-3.2zM205.62 94.31h3.2v10.8h-3.2zM213.98 94.31h3.2v10.8h-3.2zM218.16 94.31h3.2v10.8h-3.2zM222.34 94.31h3.2v10.8h-3.2zM226.52 94.31h3.2v10.8h-3.2zM230.70 94.31h3.2v10.8h-3.2zM234.88 94.31h3.2v10.8h-3.2zM239.06 94.31h3.2v10.8h-3.2zM243.24 94.31h3.2v10.8h-3.2zM247.42 94.31h3.2v10.8h-3.2zM251.60 94.31h3.2v10.8h-3.2zM255.78 94.31h3.2v10.8h-3.2zM259.96 94.31h3.2v10.8h-3.2zM264.14 94.31h3.2v10.8h-3.2zM272.50 94.31h3.2v10.8h-3.2zM276.68 94.31h3.2v10.8h-3.2zM289.22 94.31h3.2v10.8h-3.2zM293.40 94.31h3.2v10.8h-3.2zM297.58 94.31h3.2v10.8h-3.2zM301.76 94.31h3.2v10.8h-3.2zM305.94 94.31h3.2v10.8h-3.2zM310.12 94.31h3.2v10.8h-3.2zM314.30 94.31h3.2v10.8h-3.2zM318.48 94.31h3.2v10.8h-3.2zM343.56 94.31h3.2v10.8h-3.2zM347.74 94.31h3.2v10.8h-3.2zM351.92 94.31h3.2v10.8h-3.2zM356.10 94.31h3.2v10.8h-3.2zM360.28 94.31h3.2v10.8h-3.2zM364.46 94.31h3.2v10.8h-3.2zM368.64 94.31h3.2v10.8h-3.2zM372.82 94.31h3.2v10.8h-3.2zM377.00 94.31h3.2v10.8h-3.2zM381.18 94.31h3.2v10.8h-3.2zM385.36 94.31h3.2v10.8h-3.2zM389.54 94.31h3.2v10.8h-3.2zM393.72 94.31h3.2v10.8h-3.2zM397.90 94.31h3.2v10.8h-3.2zM402.08 94.31h3.2v10.8h-3.2zM406.26 94.31h3.2v10.8h-3.2zM410.44 94.31h3.2v10.8h-3.2zM414.62 94.31h3.2v10.8h-3.2zM418.80 94.31h3.2v10.8h-3.2zM422.98 94.31h3.2v10.8h-3.2zM427.16 94.31h3.2v10.8h-3.2zM46.78 106.44h3.2v10.8h-3.2zM50.96 106.44h3.2v10.8h-3.2zM55.14 106.44h3.2v10.8h-3.2zM59.32 106.44h3.2v10.8h-3.2zM63.50 106.44h3.2v10.8h-3.2zM67.68 106.44h3.2v10.8h-3.2zM71.86 106.44h3.2v10.8h-3.2zM76.04 106.44h3.2v10.8h-3.2zM80.22 106.44h3.2v10.8h-3.2zM84.40 106.44h3.2v10.8h-3.2zM88.58 106.44h3.2v10.8h-3.2zM92.76 106.44h3.2v10.8h-3.2zM96.94 106.44h3.2v10.8h-3.2zM101.12 106.44h3.2v10.8h-3.2zM109.48 106.44h3.2v10.8h-3.2zM113.66 106.44h3.2v10.8h-3.2zM117.84 106.44h3.2v10.8h-3.2zM122.02 106.44h3.2v10.8h-3.2zM126.20 106.44h3.2v10.8h-3.2zM130.38 106.44h3.2v10.8h-3.2zM134.56 106.44h3.2v10.8h-3.2zM138.74 106.44h3.2v10.8h-3.2zM147.10 106.44h3.2v10.8h-3.2zM155.46 106.44h3.2v10.8h-3.2zM159.64 106.44h3.2v10.8h-3.2zM163.82 106.44h3.2v10.8h-3.2zM168.00 106.44h3.2v10.8h-3.2zM172.18 106.44h3.2v10.8h-3.2zM180.54 106.44h3.2v10.8h-3.2zM184.72 106.44h3.2v10.8h-3.2zM188.90 106.44h3.2v10.8h-3.2zM193.08 106.44h3.2v10.8h-3.2zM197.26 106.44h3.2v10.8h-3.2zM201.44 106.44h3.2v10.8h-3.2zM205.62 106.44h3.2v10.8h-3.2zM209.80 106.44h3.2v10.8h-3.2zM218.16 106.44h3.2v10.8h-3.2zM222.34 106.44h3.2v10.8h-3.2zM226.52 106.44h3.2v10.8h-3.2zM230.70 106.44h3.2v10.8h-3.2zM234.88 106.44h3.2v10.8h-3.2zM239.06 106.44h3.2v10.8h-3.2zM243.24 106.44h3.2v10.8h-3.2zM247.42 106.44h3.2v10.8h-3.2zM251.60 106.44h3.2v10.8h-3.2zM255.78 106.44h3.2v10.8h-3.2zM259.96 106.44h3.2v10.8h-3.2zM264.14 106.44h3.2v10.8h-3.2zM268.32 106.44h3.2v10.8h-3.2zM272.50 106.44h3.2v10.8h-3.2zM276.68 106.44h3.2v10.8h-3.2zM280.86 106.44h3.2v10.8h-3.2zM285.04 106.44h3.2v10.8h-3.2zM289.22 106.44h3.2v10.8h-3.2zM293.40 106.44h3.2v10.8h-3.2zM297.58 106.44h3.2v10.8h-3.2zM301.76 106.44h3.2v10.8h-3.2zM305.94 106.44h3.2v10.8h-3.2zM310.12 106.44h3.2v10.8h-3.2zM314.30 106.44h3.2v10.8h-3.2zM318.48 106.44h3.2v10.8h-3.2zM322.66 106.44h3.2v10.8h-3.2zM326.84 106.44h3.2v10.8h-3.2zM331.02 106.44h3.2v10.8h-3.2zM335.20 106.44h3.2v10.8h-3.2zM339.38 106.44h3.2v10.8h-3.2zM360.28 106.44h3.2v10.8h-3.2zM364.46 106.44h3.2v10.8h-3.2zM368.64 106.44h3.2v10.8h-3.2zM372.82 106.44h3.2v10.8h-3.2zM377.00 106.44h3.2v10.8h-3.2zM381.18 106.44h3.2v10.8h-3.2zM385.36 106.44h3.2v10.8h-3.2zM389.54 106.44h3.2v10.8h-3.2zM393.72 106.44h3.2v10.8h-3.2zM397.90 106.44h3.2v10.8h-3.2zM402.08 106.44h3.2v10.8h-3.2zM406.26 106.44h3.2v10.8h-3.2zM410.44 106.44h3.2v10.8h-3.2zM414.62 106.44h3.2v10.8h-3.2zM418.80 106.44h3.2v10.8h-3.2zM422.98 106.44h3.2v10.8h-3.2zM427.16 106.44h3.2v10.8h-3.2zM42.60 118.57h3.2v10.8h-3.2zM50.96 118.57h3.2v10.8h-3.2zM55.14 118.57h3.2v10.8h-3.2zM59.32 118.57h3.2v10.8h-3.2zM63.50 118.57h3.2v10.8h-3.2zM67.68 118.57h3.2v10.8h-3.2zM71.86 118.57h3.2v10.8h-3.2zM76.04 118.57h3.2v10.8h-3.2zM84.40 118.57h3.2v10.8h-3.2zM88.58 118.57h3.2v10.8h-3.2zM92.76 118.57h3.2v10.8h-3.2zM96.94 118.57h3.2v10.8h-3.2zM101.12 118.57h3.2v10.8h-3.2zM105.30 118.57h3.2v10.8h-3.2zM109.48 118.57h3.2v10.8h-3.2zM113.66 118.57h3.2v10.8h-3.2zM117.84 118.57h3.2v10.8h-3.2zM122.02 118.57h3.2v10.8h-3.2zM126.20 118.57h3.2v10.8h-3.2zM130.38 118.57h3.2v10.8h-3.2zM134.56 118.57h3.2v10.8h-3.2zM138.74 118.57h3.2v10.8h-3.2zM142.92 118.57h3.2v10.8h-3.2zM147.10 118.57h3.2v10.8h-3.2zM151.28 118.57h3.2v10.8h-3.2zM155.46 118.57h3.2v10.8h-3.2zM159.64 118.57h3.2v10.8h-3.2zM163.82 118.57h3.2v10.8h-3.2zM168.00 118.57h3.2v10.8h-3.2zM172.18 118.57h3.2v10.8h-3.2zM176.36 118.57h3.2v10.8h-3.2zM180.54 118.57h3.2v10.8h-3.2zM184.72 118.57h3.2v10.8h-3.2zM197.26 118.57h3.2v10.8h-3.2zM201.44 118.57h3.2v10.8h-3.2zM205.62 118.57h3.2v10.8h-3.2zM209.80 118.57h3.2v10.8h-3.2zM213.98 118.57h3.2v10.8h-3.2zM222.34 118.57h3.2v10.8h-3.2zM226.52 118.57h3.2v10.8h-3.2zM230.70 118.57h3.2v10.8h-3.2zM234.88 118.57h3.2v10.8h-3.2zM239.06 118.57h3.2v10.8h-3.2zM243.24 118.57h3.2v10.8h-3.2zM247.42 118.57h3.2v10.8h-3.2zM251.60 118.57h3.2v10.8h-3.2zM255.78 118.57h3.2v10.8h-3.2zM259.96 118.57h3.2v10.8h-3.2zM264.14 118.57h3.2v10.8h-3.2zM268.32 118.57h3.2v10.8h-3.2zM272.50 118.57h3.2v10.8h-3.2zM276.68 118.57h3.2v10.8h-3.2zM280.86 118.57h3.2v10.8h-3.2zM285.04 118.57h3.2v10.8h-3.2zM289.22 118.57h3.2v10.8h-3.2zM293.40 118.57h3.2v10.8h-3.2zM297.58 118.57h3.2v10.8h-3.2zM301.76 118.57h3.2v10.8h-3.2zM305.94 118.57h3.2v10.8h-3.2zM310.12 118.57h3.2v10.8h-3.2zM314.30 118.57h3.2v10.8h-3.2zM318.48 118.57h3.2v10.8h-3.2zM322.66 118.57h3.2v10.8h-3.2zM326.84 118.57h3.2v10.8h-3.2zM331.02 118.57h3.2v10.8h-3.2zM335.20 118.57h3.2v10.8h-3.2zM339.38 118.57h3.2v10.8h-3.2zM347.74 118.57h3.2v10.8h-3.2zM351.92 118.57h3.2v10.8h-3.2zM356.10 118.57h3.2v10.8h-3.2zM364.46 118.57h3.2v10.8h-3.2zM368.64 118.57h3.2v10.8h-3.2zM372.82 118.57h3.2v10.8h-3.2zM377.00 118.57h3.2v10.8h-3.2zM381.18 118.57h3.2v10.8h-3.2zM385.36 118.57h3.2v10.8h-3.2zM389.54 118.57h3.2v10.8h-3.2zM393.72 118.57h3.2v10.8h-3.2zM397.90 118.57h3.2v10.8h-3.2zM402.08 118.57h3.2v10.8h-3.2zM406.26 118.57h3.2v10.8h-3.2zM410.44 118.57h3.2v10.8h-3.2zM414.62 118.57h3.2v10.8h-3.2zM418.80 118.57h3.2v10.8h-3.2zM422.98 118.57h3.2v10.8h-3.2zM427.16 118.57h3.2v10.8h-3.2zM42.60 130.70h3.2v10.8h-3.2zM46.78 130.70h3.2v10.8h-3.2zM55.14 130.70h3.2v10.8h-3.2zM59.32 130.70h3.2v10.8h-3.2zM67.68 130.70h3.2v10.8h-3.2zM71.86 130.70h3.2v10.8h-3.2zM76.04 130.70h3.2v10.8h-3.2zM80.22 130.70h3.2v10.8h-3.2zM84.40 130.70h3.2v10.8h-3.2zM88.58 130.70h3.2v10.8h-3.2zM92.76 130.70h3.2v10.8h-3.2zM96.94 130.70h3.2v10.8h-3.2zM101.12 130.70h3.2v10.8h-3.2zM109.48 130.70h3.2v10.8h-3.2zM113.66 130.70h3.2v10.8h-3.2zM117.84 130.70h3.2v10.8h-3.2zM122.02 130.70h3.2v10.8h-3.2zM126.20 130.70h3.2v10.8h-3.2zM130.38 130.70h3.2v10.8h-3.2zM134.56 130.70h3.2v10.8h-3.2zM138.74 130.70h3.2v10.8h-3.2zM142.92 130.70h3.2v10.8h-3.2zM147.10 130.70h3.2v10.8h-3.2zM151.28 130.70h3.2v10.8h-3.2zM159.64 130.70h3.2v10.8h-3.2zM163.82 130.70h3.2v10.8h-3.2zM168.00 130.70h3.2v10.8h-3.2zM172.18 130.70h3.2v10.8h-3.2zM176.36 130.70h3.2v10.8h-3.2zM180.54 130.70h3.2v10.8h-3.2zM184.72 130.70h3.2v10.8h-3.2zM188.90 130.70h3.2v10.8h-3.2zM193.08 130.70h3.2v10.8h-3.2zM197.26 130.70h3.2v10.8h-3.2zM201.44 130.70h3.2v10.8h-3.2zM205.62 130.70h3.2v10.8h-3.2zM209.80 130.70h3.2v10.8h-3.2zM213.98 130.70h3.2v10.8h-3.2zM218.16 130.70h3.2v10.8h-3.2zM222.34 130.70h3.2v10.8h-3.2zM226.52 130.70h3.2v10.8h-3.2zM230.70 130.70h3.2v10.8h-3.2zM234.88 130.70h3.2v10.8h-3.2zM239.06 130.70h3.2v10.8h-3.2zM243.24 130.70h3.2v10.8h-3.2zM247.42 130.70h3.2v10.8h-3.2zM251.60 130.70h3.2v10.8h-3.2zM255.78 130.70h3.2v10.8h-3.2zM259.96 130.70h3.2v10.8h-3.2zM264.14 130.70h3.2v10.8h-3.2zM268.32 130.70h3.2v10.8h-3.2zM272.50 130.70h3.2v10.8h-3.2zM276.68 130.70h3.2v10.8h-3.2zM280.86 130.70h3.2v10.8h-3.2zM285.04 130.70h3.2v10.8h-3.2zM289.22 130.70h3.2v10.8h-3.2zM293.40 130.70h3.2v10.8h-3.2zM297.58 130.70h3.2v10.8h-3.2zM301.76 130.70h3.2v10.8h-3.2zM305.94 130.70h3.2v10.8h-3.2zM314.30 130.70h3.2v10.8h-3.2zM318.48 130.70h3.2v10.8h-3.2zM322.66 130.70h3.2v10.8h-3.2zM326.84 130.70h3.2v10.8h-3.2zM331.02 130.70h3.2v10.8h-3.2zM335.20 130.70h3.2v10.8h-3.2zM339.38 130.70h3.2v10.8h-3.2zM343.56 130.70h3.2v10.8h-3.2zM347.74 130.70h3.2v10.8h-3.2zM351.92 130.70h3.2v10.8h-3.2zM356.10 130.70h3.2v10.8h-3.2zM360.28 130.70h3.2v10.8h-3.2zM368.64 130.70h3.2v10.8h-3.2zM372.82 130.70h3.2v10.8h-3.2zM377.00 130.70h3.2v10.8h-3.2zM381.18 130.70h3.2v10.8h-3.2zM385.36 130.70h3.2v10.8h-3.2zM389.54 130.70h3.2v10.8h-3.2zM393.72 130.70h3.2v10.8h-3.2zM397.90 130.70h3.2v10.8h-3.2zM402.08 130.70h3.2v10.8h-3.2zM406.26 130.70h3.2v10.8h-3.2zM410.44 130.70h3.2v10.8h-3.2zM414.62 130.70h3.2v10.8h-3.2zM418.80 130.70h3.2v10.8h-3.2zM422.98 130.70h3.2v10.8h-3.2zM427.16 130.70h3.2v10.8h-3.2zM42.60 142.83h3.2v10.8h-3.2zM46.78 142.83h3.2v10.8h-3.2zM50.96 142.83h3.2v10.8h-3.2zM55.14 142.83h3.2v10.8h-3.2zM63.50 142.83h3.2v10.8h-3.2zM67.68 142.83h3.2v10.8h-3.2zM71.86 142.83h3.2v10.8h-3.2zM80.22 142.83h3.2v10.8h-3.2zM84.40 142.83h3.2v10.8h-3.2zM88.58 142.83h3.2v10.8h-3.2zM92.76 142.83h3.2v10.8h-3.2zM96.94 142.83h3.2v10.8h-3.2zM101.12 142.83h3.2v10.8h-3.2zM105.30 142.83h3.2v10.8h-3.2zM109.48 142.83h3.2v10.8h-3.2zM117.84 142.83h3.2v10.8h-3.2zM122.02 142.83h3.2v10.8h-3.2zM130.38 142.83h3.2v10.8h-3.2zM134.56 142.83h3.2v10.8h-3.2zM138.74 142.83h3.2v10.8h-3.2zM142.92 142.83h3.2v10.8h-3.2zM147.10 142.83h3.2v10.8h-3.2zM151.28 142.83h3.2v10.8h-3.2zM155.46 142.83h3.2v10.8h-3.2zM159.64 142.83h3.2v10.8h-3.2zM163.82 142.83h3.2v10.8h-3.2zM168.00 142.83h3.2v10.8h-3.2zM172.18 142.83h3.2v10.8h-3.2zM176.36 142.83h3.2v10.8h-3.2zM180.54 142.83h3.2v10.8h-3.2zM184.72 142.83h3.2v10.8h-3.2zM188.90 142.83h3.2v10.8h-3.2zM193.08 142.83h3.2v10.8h-3.2zM197.26 142.83h3.2v10.8h-3.2zM201.44 142.83h3.2v10.8h-3.2zM205.62 142.83h3.2v10.8h-3.2zM209.80 142.83h3.2v10.8h-3.2zM222.34 142.83h3.2v10.8h-3.2zM226.52 142.83h3.2v10.8h-3.2zM230.70 142.83h3.2v10.8h-3.2zM234.88 142.83h3.2v10.8h-3.2zM239.06 142.83h3.2v10.8h-3.2zM243.24 142.83h3.2v10.8h-3.2zM247.42 142.83h3.2v10.8h-3.2zM251.60 142.83h3.2v10.8h-3.2zM255.78 142.83h3.2v10.8h-3.2zM259.96 142.83h3.2v10.8h-3.2zM264.14 142.83h3.2v10.8h-3.2zM272.50 142.83h3.2v10.8h-3.2zM276.68 142.83h3.2v10.8h-3.2zM280.86 142.83h3.2v10.8h-3.2zM285.04 142.83h3.2v10.8h-3.2zM289.22 142.83h3.2v10.8h-3.2zM293.40 142.83h3.2v10.8h-3.2zM297.58 142.83h3.2v10.8h-3.2zM301.76 142.83h3.2v10.8h-3.2zM305.94 142.83h3.2v10.8h-3.2zM310.12 142.83h3.2v10.8h-3.2zM314.30 142.83h3.2v10.8h-3.2zM318.48 142.83h3.2v10.8h-3.2zM322.66 142.83h3.2v10.8h-3.2zM326.84 142.83h3.2v10.8h-3.2zM331.02 142.83h3.2v10.8h-3.2zM335.20 142.83h3.2v10.8h-3.2zM339.38 142.83h3.2v10.8h-3.2zM343.56 142.83h3.2v10.8h-3.2zM347.74 142.83h3.2v10.8h-3.2zM351.92 142.83h3.2v10.8h-3.2zM356.10 142.83h3.2v10.8h-3.2zM360.28 142.83h3.2v10.8h-3.2zM364.46 142.83h3.2v10.8h-3.2zM372.82 142.83h3.2v10.8h-3.2zM377.00 142.83h3.2v10.8h-3.2zM385.36 142.83h3.2v10.8h-3.2zM393.72 142.83h3.2v10.8h-3.2zM397.90 142.83h3.2v10.8h-3.2zM402.08 142.83h3.2v10.8h-3.2zM410.44 142.83h3.2v10.8h-3.2zM414.62 142.83h3.2v10.8h-3.2zM418.80 142.83h3.2v10.8h-3.2zM422.98 142.83h3.2v10.8h-3.2zM427.16 142.83h3.2v10.8h-3.2zM46.78 154.96h3.2v10.8h-3.2zM50.96 154.96h3.2v10.8h-3.2zM55.14 154.96h3.2v10.8h-3.2zM59.32 154.96h3.2v10.8h-3.2zM63.50 154.96h3.2v10.8h-3.2zM67.68 154.96h3.2v10.8h-3.2zM71.86 154.96h3.2v10.8h-3.2zM84.40 154.96h3.2v10.8h-3.2zM88.58 154.96h3.2v10.8h-3.2zM92.76 154.96h3.2v10.8h-3.2zM101.12 154.96h3.2v10.8h-3.2zM105.30 154.96h3.2v10.8h-3.2zM109.48 154.96h3.2v10.8h-3.2zM113.66 154.96h3.2v10.8h-3.2zM117.84 154.96h3.2v10.8h-3.2zM122.02 154.96h3.2v10.8h-3.2zM126.20 154.96h3.2v10.8h-3.2zM130.38 154.96h3.2v10.8h-3.2zM134.56 154.96h3.2v10.8h-3.2zM138.74 154.96h3.2v10.8h-3.2zM142.92 154.96h3.2v10.8h-3.2zM147.10 154.96h3.2v10.8h-3.2zM151.28 154.96h3.2v10.8h-3.2zM155.46 154.96h3.2v10.8h-3.2zM159.64 154.96h3.2v10.8h-3.2zM163.82 154.96h3.2v10.8h-3.2zM168.00 154.96h3.2v10.8h-3.2zM172.18 154.96h3.2v10.8h-3.2zM176.36 154.96h3.2v10.8h-3.2zM180.54 154.96h3.2v10.8h-3.2zM184.72 154.96h3.2v10.8h-3.2zM188.90 154.96h3.2v10.8h-3.2zM193.08 154.96h3.2v10.8h-3.2zM197.26 154.96h3.2v10.8h-3.2zM201.44 154.96h3.2v10.8h-3.2zM205.62 154.96h3.2v10.8h-3.2zM209.80 154.96h3.2v10.8h-3.2zM213.98 154.96h3.2v10.8h-3.2zM218.16 154.96h3.2v10.8h-3.2zM222.34 154.96h3.2v10.8h-3.2zM226.52 154.96h3.2v10.8h-3.2zM230.70 154.96h3.2v10.8h-3.2zM234.88 154.96h3.2v10.8h-3.2zM239.06 154.96h3.2v10.8h-3.2zM243.24 154.96h3.2v10.8h-3.2zM247.42 154.96h3.2v10.8h-3.2zM251.60 154.96h3.2v10.8h-3.2zM255.78 154.96h3.2v10.8h-3.2zM259.96 154.96h3.2v10.8h-3.2zM264.14 154.96h3.2v10.8h-3.2zM268.32 154.96h3.2v10.8h-3.2zM272.50 154.96h3.2v10.8h-3.2zM276.68 154.96h3.2v10.8h-3.2zM280.86 154.96h3.2v10.8h-3.2zM285.04 154.96h3.2v10.8h-3.2zM289.22 154.96h3.2v10.8h-3.2zM293.40 154.96h3.2v10.8h-3.2zM297.58 154.96h3.2v10.8h-3.2zM301.76 154.96h3.2v10.8h-3.2zM310.12 154.96h3.2v10.8h-3.2zM314.30 154.96h3.2v10.8h-3.2zM318.48 154.96h3.2v10.8h-3.2zM326.84 154.96h3.2v10.8h-3.2zM331.02 154.96h3.2v10.8h-3.2zM335.20 154.96h3.2v10.8h-3.2zM339.38 154.96h3.2v10.8h-3.2zM343.56 154.96h3.2v10.8h-3.2zM356.10 154.96h3.2v10.8h-3.2zM360.28 154.96h3.2v10.8h-3.2zM364.46 154.96h3.2v10.8h-3.2zM368.64 154.96h3.2v10.8h-3.2zM377.00 154.96h3.2v10.8h-3.2zM381.18 154.96h3.2v10.8h-3.2zM385.36 154.96h3.2v10.8h-3.2zM389.54 154.96h3.2v10.8h-3.2zM393.72 154.96h3.2v10.8h-3.2zM397.90 154.96h3.2v10.8h-3.2zM402.08 154.96h3.2v10.8h-3.2zM406.26 154.96h3.2v10.8h-3.2zM410.44 154.96h3.2v10.8h-3.2zM414.62 154.96h3.2v10.8h-3.2zM418.80 154.96h3.2v10.8h-3.2zM422.98 154.96h3.2v10.8h-3.2zM427.16 154.96h3.2v10.8h-3.2zM42.60 167.09h3.2v10.8h-3.2zM46.78 167.09h3.2v10.8h-3.2zM50.96 167.09h3.2v10.8h-3.2zM55.14 167.09h3.2v10.8h-3.2zM59.32 167.09h3.2v10.8h-3.2zM63.50 167.09h3.2v10.8h-3.2zM67.68 167.09h3.2v10.8h-3.2zM71.86 167.09h3.2v10.8h-3.2zM76.04 167.09h3.2v10.8h-3.2zM80.22 167.09h3.2v10.8h-3.2zM84.40 167.09h3.2v10.8h-3.2zM88.58 167.09h3.2v10.8h-3.2zM92.76 167.09h3.2v10.8h-3.2zM96.94 167.09h3.2v10.8h-3.2zM101.12 167.09h3.2v10.8h-3.2zM113.66 167.09h3.2v10.8h-3.2zM117.84 167.09h3.2v10.8h-3.2zM122.02 167.09h3.2v10.8h-3.2zM126.20 167.09h3.2v10.8h-3.2zM130.38 167.09h3.2v10.8h-3.2zM134.56 167.09h3.2v10.8h-3.2zM142.92 167.09h3.2v10.8h-3.2zM147.10 167.09h3.2v10.8h-3.2zM151.28 167.09h3.2v10.8h-3.2zM155.46 167.09h3.2v10.8h-3.2zM159.64 167.09h3.2v10.8h-3.2zM163.82 167.09h3.2v10.8h-3.2zM168.00 167.09h3.2v10.8h-3.2zM172.18 167.09h3.2v10.8h-3.2zM176.36 167.09h3.2v10.8h-3.2zM180.54 167.09h3.2v10.8h-3.2zM184.72 167.09h3.2v10.8h-3.2zM188.90 167.09h3.2v10.8h-3.2zM193.08 167.09h3.2v10.8h-3.2zM197.26 167.09h3.2v10.8h-3.2zM201.44 167.09h3.2v10.8h-3.2zM205.62 167.09h3.2v10.8h-3.2zM209.80 167.09h3.2v10.8h-3.2zM213.98 167.09h3.2v10.8h-3.2zM218.16 167.09h3.2v10.8h-3.2zM222.34 167.09h3.2v10.8h-3.2zM226.52 167.09h3.2v10.8h-3.2zM230.70 167.09h3.2v10.8h-3.2zM234.88 167.09h3.2v10.8h-3.2zM239.06 167.09h3.2v10.8h-3.2zM243.24 167.09h3.2v10.8h-3.2zM251.60 167.09h3.2v10.8h-3.2zM255.78 167.09h3.2v10.8h-3.2zM259.96 167.09h3.2v10.8h-3.2zM268.32 167.09h3.2v10.8h-3.2zM272.50 167.09h3.2v10.8h-3.2zM276.68 167.09h3.2v10.8h-3.2zM280.86 167.09h3.2v10.8h-3.2zM285.04 167.09h3.2v10.8h-3.2zM289.22 167.09h3.2v10.8h-3.2zM297.58 167.09h3.2v10.8h-3.2zM301.76 167.09h3.2v10.8h-3.2zM310.12 167.09h3.2v10.8h-3.2zM314.30 167.09h3.2v10.8h-3.2zM318.48 167.09h3.2v10.8h-3.2zM322.66 167.09h3.2v10.8h-3.2zM326.84 167.09h3.2v10.8h-3.2zM331.02 167.09h3.2v10.8h-3.2zM335.20 167.09h3.2v10.8h-3.2zM339.38 167.09h3.2v10.8h-3.2zM343.56 167.09h3.2v10.8h-3.2zM347.74 167.09h3.2v10.8h-3.2zM351.92 167.09h3.2v10.8h-3.2zM356.10 167.09h3.2v10.8h-3.2zM360.28 167.09h3.2v10.8h-3.2zM364.46 167.09h3.2v10.8h-3.2zM368.64 167.09h3.2v10.8h-3.2zM372.82 167.09h3.2v10.8h-3.2zM377.00 167.09h3.2v10.8h-3.2zM381.18 167.09h3.2v10.8h-3.2zM385.36 167.09h3.2v10.8h-3.2zM389.54 167.09h3.2v10.8h-3.2zM393.72 167.09h3.2v10.8h-3.2zM402.08 167.09h3.2v10.8h-3.2zM406.26 167.09h3.2v10.8h-3.2zM410.44 167.09h3.2v10.8h-3.2zM414.62 167.09h3.2v10.8h-3.2zM418.80 167.09h3.2v10.8h-3.2zM427.16 167.09h3.2v10.8h-3.2zM42.60 179.22h3.2v10.8h-3.2zM46.78 179.22h3.2v10.8h-3.2zM50.96 179.22h3.2v10.8h-3.2zM55.14 179.22h3.2v10.8h-3.2zM63.50 179.22h3.2v10.8h-3.2zM67.68 179.22h3.2v10.8h-3.2zM71.86 179.22h3.2v10.8h-3.2zM76.04 179.22h3.2v10.8h-3.2zM80.22 179.22h3.2v10.8h-3.2zM84.40 179.22h3.2v10.8h-3.2zM88.58 179.22h3.2v10.8h-3.2zM92.76 179.22h3.2v10.8h-3.2zM96.94 179.22h3.2v10.8h-3.2zM101.12 179.22h3.2v10.8h-3.2zM105.30 179.22h3.2v10.8h-3.2zM109.48 179.22h3.2v10.8h-3.2zM113.66 179.22h3.2v10.8h-3.2zM117.84 179.22h3.2v10.8h-3.2zM122.02 179.22h3.2v10.8h-3.2zM126.20 179.22h3.2v10.8h-3.2zM130.38 179.22h3.2v10.8h-3.2zM138.74 179.22h3.2v10.8h-3.2zM142.92 179.22h3.2v10.8h-3.2zM147.10 179.22h3.2v10.8h-3.2zM151.28 179.22h3.2v10.8h-3.2zM155.46 179.22h3.2v10.8h-3.2zM159.64 179.22h3.2v10.8h-3.2zM163.82 179.22h3.2v10.8h-3.2zM168.00 179.22h3.2v10.8h-3.2zM172.18 179.22h3.2v10.8h-3.2zM176.36 179.22h3.2v10.8h-3.2zM180.54 179.22h3.2v10.8h-3.2zM193.08 179.22h3.2v10.8h-3.2zM197.26 179.22h3.2v10.8h-3.2zM201.44 179.22h3.2v10.8h-3.2zM205.62 179.22h3.2v10.8h-3.2zM209.80 179.22h3.2v10.8h-3.2zM213.98 179.22h3.2v10.8h-3.2zM218.16 179.22h3.2v10.8h-3.2zM226.52 179.22h3.2v10.8h-3.2zM230.70 179.22h3.2v10.8h-3.2zM234.88 179.22h3.2v10.8h-3.2zM239.06 179.22h3.2v10.8h-3.2zM243.24 179.22h3.2v10.8h-3.2zM247.42 179.22h3.2v10.8h-3.2zM251.60 179.22h3.2v10.8h-3.2zM255.78 179.22h3.2v10.8h-3.2zM259.96 179.22h3.2v10.8h-3.2zM264.14 179.22h3.2v10.8h-3.2zM268.32 179.22h3.2v10.8h-3.2zM272.50 179.22h3.2v10.8h-3.2zM276.68 179.22h3.2v10.8h-3.2zM280.86 179.22h3.2v10.8h-3.2zM285.04 179.22h3.2v10.8h-3.2zM289.22 179.22h3.2v10.8h-3.2zM293.40 179.22h3.2v10.8h-3.2zM297.58 179.22h3.2v10.8h-3.2zM301.76 179.22h3.2v10.8h-3.2zM305.94 179.22h3.2v10.8h-3.2zM310.12 179.22h3.2v10.8h-3.2zM314.30 179.22h3.2v10.8h-3.2zM318.48 179.22h3.2v10.8h-3.2zM322.66 179.22h3.2v10.8h-3.2zM326.84 179.22h3.2v10.8h-3.2zM331.02 179.22h3.2v10.8h-3.2zM335.20 179.22h3.2v10.8h-3.2zM339.38 179.22h3.2v10.8h-3.2zM343.56 179.22h3.2v10.8h-3.2zM351.92 179.22h3.2v10.8h-3.2zM356.10 179.22h3.2v10.8h-3.2zM360.28 179.22h3.2v10.8h-3.2zM364.46 179.22h3.2v10.8h-3.2zM368.64 179.22h3.2v10.8h-3.2zM372.82 179.22h3.2v10.8h-3.2zM381.18 179.22h3.2v10.8h-3.2zM385.36 179.22h3.2v10.8h-3.2zM389.54 179.22h3.2v10.8h-3.2zM393.72 179.22h3.2v10.8h-3.2zM397.90 179.22h3.2v10.8h-3.2zM402.08 179.22h3.2v10.8h-3.2zM410.44 179.22h3.2v10.8h-3.2zM414.62 179.22h3.2v10.8h-3.2zM418.80 179.22h3.2v10.8h-3.2zM422.98 179.22h3.2v10.8h-3.2zM427.16 179.22h3.2v10.8h-3.2zM42.60 191.35h3.2v10.8h-3.2zM46.78 191.35h3.2v10.8h-3.2zM50.96 191.35h3.2v10.8h-3.2zM55.14 191.35h3.2v10.8h-3.2zM59.32 191.35h3.2v10.8h-3.2zM63.50 191.35h3.2v10.8h-3.2zM67.68 191.35h3.2v10.8h-3.2zM71.86 191.35h3.2v10.8h-3.2zM76.04 191.35h3.2v10.8h-3.2zM80.22 191.35h3.2v10.8h-3.2zM84.40 191.35h3.2v10.8h-3.2zM88.58 191.35h3.2v10.8h-3.2zM92.76 191.35h3.2v10.8h-3.2zM96.94 191.35h3.2v10.8h-3.2zM101.12 191.35h3.2v10.8h-3.2zM105.30 191.35h3.2v10.8h-3.2zM109.48 191.35h3.2v10.8h-3.2zM113.66 191.35h3.2v10.8h-3.2zM117.84 191.35h3.2v10.8h-3.2zM122.02 191.35h3.2v10.8h-3.2zM126.20 191.35h3.2v10.8h-3.2zM130.38 191.35h3.2v10.8h-3.2zM134.56 191.35h3.2v10.8h-3.2zM142.92 191.35h3.2v10.8h-3.2zM147.10 191.35h3.2v10.8h-3.2zM151.28 191.35h3.2v10.8h-3.2zM155.46 191.35h3.2v10.8h-3.2zM159.64 191.35h3.2v10.8h-3.2zM168.00 191.35h3.2v10.8h-3.2zM172.18 191.35h3.2v10.8h-3.2zM176.36 191.35h3.2v10.8h-3.2zM180.54 191.35h3.2v10.8h-3.2zM184.72 191.35h3.2v10.8h-3.2zM188.90 191.35h3.2v10.8h-3.2zM193.08 191.35h3.2v10.8h-3.2zM197.26 191.35h3.2v10.8h-3.2zM201.44 191.35h3.2v10.8h-3.2zM205.62 191.35h3.2v10.8h-3.2zM209.80 191.35h3.2v10.8h-3.2zM213.98 191.35h3.2v10.8h-3.2zM218.16 191.35h3.2v10.8h-3.2zM222.34 191.35h3.2v10.8h-3.2zM226.52 191.35h3.2v10.8h-3.2zM230.70 191.35h3.2v10.8h-3.2zM234.88 191.35h3.2v10.8h-3.2zM239.06 191.35h3.2v10.8h-3.2zM243.24 191.35h3.2v10.8h-3.2zM247.42 191.35h3.2v10.8h-3.2zM251.60 191.35h3.2v10.8h-3.2zM255.78 191.35h3.2v10.8h-3.2zM259.96 191.35h3.2v10.8h-3.2zM264.14 191.35h3.2v10.8h-3.2zM268.32 191.35h3.2v10.8h-3.2zM272.50 191.35h3.2v10.8h-3.2zM276.68 191.35h3.2v10.8h-3.2zM280.86 191.35h3.2v10.8h-3.2zM285.04 191.35h3.2v10.8h-3.2zM289.22 191.35h3.2v10.8h-3.2zM293.40 191.35h3.2v10.8h-3.2zM297.58 191.35h3.2v10.8h-3.2zM305.94 191.35h3.2v10.8h-3.2zM310.12 191.35h3.2v10.8h-3.2zM314.30 191.35h3.2v10.8h-3.2zM318.48 191.35h3.2v10.8h-3.2zM322.66 191.35h3.2v10.8h-3.2zM331.02 191.35h3.2v10.8h-3.2zM335.20 191.35h3.2v10.8h-3.2zM339.38 191.35h3.2v10.8h-3.2zM343.56 191.35h3.2v10.8h-3.2zM347.74 191.35h3.2v10.8h-3.2zM351.92 191.35h3.2v10.8h-3.2zM356.10 191.35h3.2v10.8h-3.2zM360.28 191.35h3.2v10.8h-3.2zM364.46 191.35h3.2v10.8h-3.2zM368.64 191.35h3.2v10.8h-3.2zM377.00 191.35h3.2v10.8h-3.2zM381.18 191.35h3.2v10.8h-3.2zM385.36 191.35h3.2v10.8h-3.2zM389.54 191.35h3.2v10.8h-3.2zM393.72 191.35h3.2v10.8h-3.2zM402.08 191.35h3.2v10.8h-3.2zM406.26 191.35h3.2v10.8h-3.2zM410.44 191.35h3.2v10.8h-3.2zM414.62 191.35h3.2v10.8h-3.2zM427.16 191.35h3.2v10.8h-3.2zM42.60 203.48h3.2v10.8h-3.2zM46.78 203.48h3.2v10.8h-3.2zM50.96 203.48h3.2v10.8h-3.2zM55.14 203.48h3.2v10.8h-3.2zM59.32 203.48h3.2v10.8h-3.2zM63.50 203.48h3.2v10.8h-3.2zM67.68 203.48h3.2v10.8h-3.2zM71.86 203.48h3.2v10.8h-3.2zM84.40 203.48h3.2v10.8h-3.2zM88.58 203.48h3.2v10.8h-3.2zM92.76 203.48h3.2v10.8h-3.2zM96.94 203.48h3.2v10.8h-3.2zM101.12 203.48h3.2v10.8h-3.2zM105.30 203.48h3.2v10.8h-3.2zM109.48 203.48h3.2v10.8h-3.2zM113.66 203.48h3.2v10.8h-3.2zM117.84 203.48h3.2v10.8h-3.2zM122.02 203.48h3.2v10.8h-3.2zM126.20 203.48h3.2v10.8h-3.2zM130.38 203.48h3.2v10.8h-3.2zM134.56 203.48h3.2v10.8h-3.2zM138.74 203.48h3.2v10.8h-3.2zM142.92 203.48h3.2v10.8h-3.2zM151.28 203.48h3.2v10.8h-3.2zM159.64 203.48h3.2v10.8h-3.2zM163.82 203.48h3.2v10.8h-3.2zM168.00 203.48h3.2v10.8h-3.2zM172.18 203.48h3.2v10.8h-3.2zM176.36 203.48h3.2v10.8h-3.2zM180.54 203.48h3.2v10.8h-3.2zM184.72 203.48h3.2v10.8h-3.2zM188.90 203.48h3.2v10.8h-3.2zM193.08 203.48h3.2v10.8h-3.2zM197.26 203.48h3.2v10.8h-3.2zM201.44 203.48h3.2v10.8h-3.2zM205.62 203.48h3.2v10.8h-3.2zM209.80 203.48h3.2v10.8h-3.2zM213.98 203.48h3.2v10.8h-3.2zM218.16 203.48h3.2v10.8h-3.2zM222.34 203.48h3.2v10.8h-3.2zM226.52 203.48h3.2v10.8h-3.2zM234.88 203.48h3.2v10.8h-3.2zM239.06 203.48h3.2v10.8h-3.2zM243.24 203.48h3.2v10.8h-3.2zM247.42 203.48h3.2v10.8h-3.2zM251.60 203.48h3.2v10.8h-3.2zM255.78 203.48h3.2v10.8h-3.2zM259.96 203.48h3.2v10.8h-3.2zM264.14 203.48h3.2v10.8h-3.2zM272.50 203.48h3.2v10.8h-3.2zM276.68 203.48h3.2v10.8h-3.2zM285.04 203.48h3.2v10.8h-3.2zM289.22 203.48h3.2v10.8h-3.2zM293.40 203.48h3.2v10.8h-3.2zM297.58 203.48h3.2v10.8h-3.2zM301.76 203.48h3.2v10.8h-3.2zM305.94 203.48h3.2v10.8h-3.2zM310.12 203.48h3.2v10.8h-3.2zM314.30 203.48h3.2v10.8h-3.2zM318.48 203.48h3.2v10.8h-3.2zM322.66 203.48h3.2v10.8h-3.2zM326.84 203.48h3.2v10.8h-3.2zM331.02 203.48h3.2v10.8h-3.2zM335.20 203.48h3.2v10.8h-3.2zM339.38 203.48h3.2v10.8h-3.2zM343.56 203.48h3.2v10.8h-3.2zM347.74 203.48h3.2v10.8h-3.2zM351.92 203.48h3.2v10.8h-3.2zM356.10 203.48h3.2v10.8h-3.2zM360.28 203.48h3.2v10.8h-3.2zM368.64 203.48h3.2v10.8h-3.2zM372.82 203.48h3.2v10.8h-3.2zM377.00 203.48h3.2v10.8h-3.2zM381.18 203.48h3.2v10.8h-3.2zM385.36 203.48h3.2v10.8h-3.2zM389.54 203.48h3.2v10.8h-3.2zM393.72 203.48h3.2v10.8h-3.2zM397.90 203.48h3.2v10.8h-3.2zM402.08 203.48h3.2v10.8h-3.2zM406.26 203.48h3.2v10.8h-3.2zM410.44 203.48h3.2v10.8h-3.2zM414.62 203.48h3.2v10.8h-3.2zM418.80 203.48h3.2v10.8h-3.2zM422.98 203.48h3.2v10.8h-3.2zM427.16 203.48h3.2v10.8h-3.2zM42.60 215.61h3.2v10.8h-3.2zM46.78 215.61h3.2v10.8h-3.2zM50.96 215.61h3.2v10.8h-3.2zM55.14 215.61h3.2v10.8h-3.2zM59.32 215.61h3.2v10.8h-3.2zM67.68 215.61h3.2v10.8h-3.2zM71.86 215.61h3.2v10.8h-3.2zM76.04 215.61h3.2v10.8h-3.2zM84.40 215.61h3.2v10.8h-3.2zM88.58 215.61h3.2v10.8h-3.2zM92.76 215.61h3.2v10.8h-3.2zM96.94 215.61h3.2v10.8h-3.2zM101.12 215.61h3.2v10.8h-3.2zM105.30 215.61h3.2v10.8h-3.2zM109.48 215.61h3.2v10.8h-3.2zM113.66 215.61h3.2v10.8h-3.2zM117.84 215.61h3.2v10.8h-3.2zM122.02 215.61h3.2v10.8h-3.2zM126.20 215.61h3.2v10.8h-3.2zM130.38 215.61h3.2v10.8h-3.2zM134.56 215.61h3.2v10.8h-3.2zM138.74 215.61h3.2v10.8h-3.2zM142.92 215.61h3.2v10.8h-3.2zM147.10 215.61h3.2v10.8h-3.2zM151.28 215.61h3.2v10.8h-3.2zM155.46 215.61h3.2v10.8h-3.2zM159.64 215.61h3.2v10.8h-3.2zM163.82 215.61h3.2v10.8h-3.2zM168.00 215.61h3.2v10.8h-3.2zM172.18 215.61h3.2v10.8h-3.2zM176.36 215.61h3.2v10.8h-3.2zM180.54 215.61h3.2v10.8h-3.2zM184.72 215.61h3.2v10.8h-3.2zM188.90 215.61h3.2v10.8h-3.2zM193.08 215.61h3.2v10.8h-3.2zM197.26 215.61h3.2v10.8h-3.2zM201.44 215.61h3.2v10.8h-3.2zM205.62 215.61h3.2v10.8h-3.2zM209.80 215.61h3.2v10.8h-3.2zM218.16 215.61h3.2v10.8h-3.2zM222.34 215.61h3.2v10.8h-3.2zM226.52 215.61h3.2v10.8h-3.2zM230.70 215.61h3.2v10.8h-3.2zM234.88 215.61h3.2v10.8h-3.2zM243.24 215.61h3.2v10.8h-3.2zM247.42 215.61h3.2v10.8h-3.2zM255.78 215.61h3.2v10.8h-3.2zM259.96 215.61h3.2v10.8h-3.2zM264.14 215.61h3.2v10.8h-3.2zM268.32 215.61h3.2v10.8h-3.2zM272.50 215.61h3.2v10.8h-3.2zM276.68 215.61h3.2v10.8h-3.2zM280.86 215.61h3.2v10.8h-3.2zM285.04 215.61h3.2v10.8h-3.2zM289.22 215.61h3.2v10.8h-3.2zM293.40 215.61h3.2v10.8h-3.2zM297.58 215.61h3.2v10.8h-3.2zM301.76 215.61h3.2v10.8h-3.2zM305.94 215.61h3.2v10.8h-3.2zM310.12 215.61h3.2v10.8h-3.2zM314.30 215.61h3.2v10.8h-3.2zM318.48 215.61h3.2v10.8h-3.2zM322.66 215.61h3.2v10.8h-3.2zM326.84 215.61h3.2v10.8h-3.2zM331.02 215.61h3.2v10.8h-3.2zM335.20 215.61h3.2v10.8h-3.2zM339.38 215.61h3.2v10.8h-3.2zM343.56 215.61h3.2v10.8h-3.2zM347.74 215.61h3.2v10.8h-3.2zM351.92 215.61h3.2v10.8h-3.2zM356.10 215.61h3.2v10.8h-3.2zM360.28 215.61h3.2v10.8h-3.2zM364.46 215.61h3.2v10.8h-3.2zM372.82 215.61h3.2v10.8h-3.2zM377.00 215.61h3.2v10.8h-3.2zM381.18 215.61h3.2v10.8h-3.2zM385.36 215.61h3.2v10.8h-3.2zM389.54 215.61h3.2v10.8h-3.2zM393.72 215.61h3.2v10.8h-3.2zM397.90 215.61h3.2v10.8h-3.2zM402.08 215.61h3.2v10.8h-3.2zM406.26 215.61h3.2v10.8h-3.2zM414.62 215.61h3.2v10.8h-3.2zM418.80 215.61h3.2v10.8h-3.2zM422.98 215.61h3.2v10.8h-3.2zM427.16 215.61h3.2v10.8h-3.2zM42.60 227.74h3.2v10.8h-3.2zM46.78 227.74h3.2v10.8h-3.2zM50.96 227.74h3.2v10.8h-3.2zM55.14 227.74h3.2v10.8h-3.2zM59.32 227.74h3.2v10.8h-3.2zM63.50 227.74h3.2v10.8h-3.2zM67.68 227.74h3.2v10.8h-3.2zM71.86 227.74h3.2v10.8h-3.2zM76.04 227.74h3.2v10.8h-3.2zM80.22 227.74h3.2v10.8h-3.2zM84.40 227.74h3.2v10.8h-3.2zM88.58 227.74h3.2v10.8h-3.2zM92.76 227.74h3.2v10.8h-3.2zM96.94 227.74h3.2v10.8h-3.2zM101.12 227.74h3.2v10.8h-3.2zM105.30 227.74h3.2v10.8h-3.2zM109.48 227.74h3.2v10.8h-3.2zM113.66 227.74h3.2v10.8h-3.2zM117.84 227.74h3.2v10.8h-3.2zM122.02 227.74h3.2v10.8h-3.2zM130.38 227.74h3.2v10.8h-3.2zM134.56 227.74h3.2v10.8h-3.2zM138.74 227.74h3.2v10.8h-3.2zM142.92 227.74h3.2v10.8h-3.2zM147.10 227.74h3.2v10.8h-3.2zM151.28 227.74h3.2v10.8h-3.2zM155.46 227.74h3.2v10.8h-3.2zM159.64 227.74h3.2v10.8h-3.2zM163.82 227.74h3.2v10.8h-3.2zM172.18 227.74h3.2v10.8h-3.2zM176.36 227.74h3.2v10.8h-3.2zM180.54 227.74h3.2v10.8h-3.2zM184.72 227.74h3.2v10.8h-3.2zM188.90 227.74h3.2v10.8h-3.2zM193.08 227.74h3.2v10.8h-3.2zM197.26 227.74h3.2v10.8h-3.2zM201.44 227.74h3.2v10.8h-3.2zM205.62 227.74h3.2v10.8h-3.2zM209.80 227.74h3.2v10.8h-3.2zM213.98 227.74h3.2v10.8h-3.2zM218.16 227.74h3.2v10.8h-3.2zM222.34 227.74h3.2v10.8h-3.2zM226.52 227.74h3.2v10.8h-3.2zM230.70 227.74h3.2v10.8h-3.2zM234.88 227.74h3.2v10.8h-3.2zM239.06 227.74h3.2v10.8h-3.2zM243.24 227.74h3.2v10.8h-3.2zM247.42 227.74h3.2v10.8h-3.2zM251.60 227.74h3.2v10.8h-3.2zM255.78 227.74h3.2v10.8h-3.2zM259.96 227.74h3.2v10.8h-3.2zM264.14 227.74h3.2v10.8h-3.2zM268.32 227.74h3.2v10.8h-3.2zM272.50 227.74h3.2v10.8h-3.2zM276.68 227.74h3.2v10.8h-3.2zM280.86 227.74h3.2v10.8h-3.2zM285.04 227.74h3.2v10.8h-3.2zM289.22 227.74h3.2v10.8h-3.2zM293.40 227.74h3.2v10.8h-3.2zM297.58 227.74h3.2v10.8h-3.2zM301.76 227.74h3.2v10.8h-3.2zM305.94 227.74h3.2v10.8h-3.2zM310.12 227.74h3.2v10.8h-3.2zM314.30 227.74h3.2v10.8h-3.2zM318.48 227.74h3.2v10.8h-3.2zM326.84 227.74h3.2v10.8h-3.2zM335.20 227.74h3.2v10.8h-3.2zM339.38 227.74h3.2v10.8h-3.2zM343.56 227.74h3.2v10.8h-3.2zM347.74 227.74h3.2v10.8h-3.2zM351.92 227.74h3.2v10.8h-3.2zM356.10 227.74h3.2v10.8h-3.2zM360.28 227.74h3.2v10.8h-3.2zM364.46 227.74h3.2v10.8h-3.2zM368.64 227.74h3.2v10.8h-3.2zM372.82 227.74h3.2v10.8h-3.2zM377.00 227.74h3.2v10.8h-3.2zM381.18 227.74h3.2v10.8h-3.2zM385.36 227.74h3.2v10.8h-3.2zM389.54 227.74h3.2v10.8h-3.2zM393.72 227.74h3.2v10.8h-3.2zM397.90 227.74h3.2v10.8h-3.2zM402.08 227.74h3.2v10.8h-3.2zM406.26 227.74h3.2v10.8h-3.2zM414.62 227.74h3.2v10.8h-3.2zM418.80 227.74h3.2v10.8h-3.2zM42.60 239.87h3.2v10.8h-3.2zM46.78 239.87h3.2v10.8h-3.2zM55.14 239.87h3.2v10.8h-3.2zM59.32 239.87h3.2v10.8h-3.2zM63.50 239.87h3.2v10.8h-3.2zM67.68 239.87h3.2v10.8h-3.2zM71.86 239.87h3.2v10.8h-3.2zM76.04 239.87h3.2v10.8h-3.2zM80.22 239.87h3.2v10.8h-3.2zM88.58 239.87h3.2v10.8h-3.2zM92.76 239.87h3.2v10.8h-3.2zM96.94 239.87h3.2v10.8h-3.2zM101.12 239.87h3.2v10.8h-3.2zM105.30 239.87h3.2v10.8h-3.2zM109.48 239.87h3.2v10.8h-3.2zM113.66 239.87h3.2v10.8h-3.2zM117.84 239.87h3.2v10.8h-3.2zM122.02 239.87h3.2v10.8h-3.2zM126.20 239.87h3.2v10.8h-3.2zM130.38 239.87h3.2v10.8h-3.2zM134.56 239.87h3.2v10.8h-3.2zM138.74 239.87h3.2v10.8h-3.2zM147.10 239.87h3.2v10.8h-3.2zM151.28 239.87h3.2v10.8h-3.2zM155.46 239.87h3.2v10.8h-3.2zM159.64 239.87h3.2v10.8h-3.2zM163.82 239.87h3.2v10.8h-3.2zM168.00 239.87h3.2v10.8h-3.2zM172.18 239.87h3.2v10.8h-3.2zM176.36 239.87h3.2v10.8h-3.2zM180.54 239.87h3.2v10.8h-3.2zM184.72 239.87h3.2v10.8h-3.2zM188.90 239.87h3.2v10.8h-3.2zM193.08 239.87h3.2v10.8h-3.2zM197.26 239.87h3.2v10.8h-3.2zM201.44 239.87h3.2v10.8h-3.2zM205.62 239.87h3.2v10.8h-3.2zM209.80 239.87h3.2v10.8h-3.2zM213.98 239.87h3.2v10.8h-3.2zM218.16 239.87h3.2v10.8h-3.2zM222.34 239.87h3.2v10.8h-3.2zM226.52 239.87h3.2v10.8h-3.2zM234.88 239.87h3.2v10.8h-3.2zM239.06 239.87h3.2v10.8h-3.2zM243.24 239.87h3.2v10.8h-3.2zM247.42 239.87h3.2v10.8h-3.2zM251.60 239.87h3.2v10.8h-3.2zM255.78 239.87h3.2v10.8h-3.2zM259.96 239.87h3.2v10.8h-3.2zM264.14 239.87h3.2v10.8h-3.2zM268.32 239.87h3.2v10.8h-3.2zM272.50 239.87h3.2v10.8h-3.2zM280.86 239.87h3.2v10.8h-3.2zM285.04 239.87h3.2v10.8h-3.2zM289.22 239.87h3.2v10.8h-3.2zM293.40 239.87h3.2v10.8h-3.2zM297.58 239.87h3.2v10.8h-3.2zM301.76 239.87h3.2v10.8h-3.2zM305.94 239.87h3.2v10.8h-3.2zM310.12 239.87h3.2v10.8h-3.2zM314.30 239.87h3.2v10.8h-3.2zM318.48 239.87h3.2v10.8h-3.2zM322.66 239.87h3.2v10.8h-3.2zM331.02 239.87h3.2v10.8h-3.2zM335.20 239.87h3.2v10.8h-3.2zM339.38 239.87h3.2v10.8h-3.2zM343.56 239.87h3.2v10.8h-3.2zM347.74 239.87h3.2v10.8h-3.2zM351.92 239.87h3.2v10.8h-3.2zM356.10 239.87h3.2v10.8h-3.2zM360.28 239.87h3.2v10.8h-3.2zM364.46 239.87h3.2v10.8h-3.2zM368.64 239.87h3.2v10.8h-3.2zM372.82 239.87h3.2v10.8h-3.2zM377.00 239.87h3.2v10.8h-3.2zM381.18 239.87h3.2v10.8h-3.2zM385.36 239.87h3.2v10.8h-3.2zM389.54 239.87h3.2v10.8h-3.2zM393.72 239.87h3.2v10.8h-3.2zM397.90 239.87h3.2v10.8h-3.2zM406.26 239.87h3.2v10.8h-3.2zM410.44 239.87h3.2v10.8h-3.2zM414.62 239.87h3.2v10.8h-3.2zM418.80 239.87h3.2v10.8h-3.2zM422.98 239.87h3.2v10.8h-3.2zM427.16 239.87h3.2v10.8h-3.2zM42.60 252.00h3.2v10.8h-3.2zM46.78 252.00h3.2v10.8h-3.2zM50.96 252.00h3.2v10.8h-3.2zM55.14 252.00h3.2v10.8h-3.2zM59.32 252.00h3.2v10.8h-3.2zM63.50 252.00h3.2v10.8h-3.2zM67.68 252.00h3.2v10.8h-3.2zM71.86 252.00h3.2v10.8h-3.2zM80.22 252.00h3.2v10.8h-3.2zM84.40 252.00h3.2v10.8h-3.2zM88.58 252.00h3.2v10.8h-3.2zM92.76 252.00h3.2v10.8h-3.2zM96.94 252.00h3.2v10.8h-3.2zM101.12 252.00h3.2v10.8h-3.2zM109.48 252.00h3.2v10.8h-3.2zM113.66 252.00h3.2v10.8h-3.2zM117.84 252.00h3.2v10.8h-3.2zM122.02 252.00h3.2v10.8h-3.2zM126.20 252.00h3.2v10.8h-3.2zM130.38 252.00h3.2v10.8h-3.2zM138.74 252.00h3.2v10.8h-3.2zM142.92 252.00h3.2v10.8h-3.2zM147.10 252.00h3.2v10.8h-3.2zM151.28 252.00h3.2v10.8h-3.2zM155.46 252.00h3.2v10.8h-3.2zM159.64 252.00h3.2v10.8h-3.2zM163.82 252.00h3.2v10.8h-3.2zM168.00 252.00h3.2v10.8h-3.2zM176.36 252.00h3.2v10.8h-3.2zM180.54 252.00h3.2v10.8h-3.2zM184.72 252.00h3.2v10.8h-3.2zM188.90 252.00h3.2v10.8h-3.2zM193.08 252.00h3.2v10.8h-3.2zM197.26 252.00h3.2v10.8h-3.2zM201.44 252.00h3.2v10.8h-3.2zM205.62 252.00h3.2v10.8h-3.2zM209.80 252.00h3.2v10.8h-3.2zM213.98 252.00h3.2v10.8h-3.2zM218.16 252.00h3.2v10.8h-3.2zM222.34 252.00h3.2v10.8h-3.2zM226.52 252.00h3.2v10.8h-3.2zM230.70 252.00h3.2v10.8h-3.2zM234.88 252.00h3.2v10.8h-3.2zM239.06 252.00h3.2v10.8h-3.2zM243.24 252.00h3.2v10.8h-3.2zM247.42 252.00h3.2v10.8h-3.2zM251.60 252.00h3.2v10.8h-3.2zM255.78 252.00h3.2v10.8h-3.2zM259.96 252.00h3.2v10.8h-3.2zM264.14 252.00h3.2v10.8h-3.2zM268.32 252.00h3.2v10.8h-3.2zM272.50 252.00h3.2v10.8h-3.2zM276.68 252.00h3.2v10.8h-3.2zM280.86 252.00h3.2v10.8h-3.2zM285.04 252.00h3.2v10.8h-3.2zM289.22 252.00h3.2v10.8h-3.2zM293.40 252.00h3.2v10.8h-3.2zM297.58 252.00h3.2v10.8h-3.2zM301.76 252.00h3.2v10.8h-3.2zM305.94 252.00h3.2v10.8h-3.2zM310.12 252.00h3.2v10.8h-3.2zM314.30 252.00h3.2v10.8h-3.2zM318.48 252.00h3.2v10.8h-3.2zM322.66 252.00h3.2v10.8h-3.2zM326.84 252.00h3.2v10.8h-3.2zM331.02 252.00h3.2v10.8h-3.2zM335.20 252.00h3.2v10.8h-3.2zM339.38 252.00h3.2v10.8h-3.2zM343.56 252.00h3.2v10.8h-3.2zM347.74 252.00h3.2v10.8h-3.2zM351.92 252.00h3.2v10.8h-3.2zM356.10 252.00h3.2v10.8h-3.2zM360.28 252.00h3.2v10.8h-3.2zM368.64 252.00h3.2v10.8h-3.2zM372.82 252.00h3.2v10.8h-3.2zM377.00 252.00h3.2v10.8h-3.2zM381.18 252.00h3.2v10.8h-3.2zM389.54 252.00h3.2v10.8h-3.2zM393.72 252.00h3.2v10.8h-3.2zM397.90 252.00h3.2v10.8h-3.2zM402.08 252.00h3.2v10.8h-3.2zM406.26 252.00h3.2v10.8h-3.2zM410.44 252.00h3.2v10.8h-3.2zM418.80 252.00h3.2v10.8h-3.2zM422.98 252.00h3.2v10.8h-3.2zM427.16 252.00h3.2v10.8h-3.2zM42.60 264.13h3.2v10.8h-3.2zM46.78 264.13h3.2v10.8h-3.2zM50.96 264.13h3.2v10.8h-3.2zM55.14 264.13h3.2v10.8h-3.2zM59.32 264.13h3.2v10.8h-3.2zM63.50 264.13h3.2v10.8h-3.2zM67.68 264.13h3.2v10.8h-3.2zM71.86 264.13h3.2v10.8h-3.2zM76.04 264.13h3.2v10.8h-3.2zM80.22 264.13h3.2v10.8h-3.2zM84.40 264.13h3.2v10.8h-3.2zM88.58 264.13h3.2v10.8h-3.2zM92.76 264.13h3.2v10.8h-3.2zM96.94 264.13h3.2v10.8h-3.2zM101.12 264.13h3.2v10.8h-3.2zM105.30 264.13h3.2v10.8h-3.2zM109.48 264.13h3.2v10.8h-3.2zM113.66 264.13h3.2v10.8h-3.2zM117.84 264.13h3.2v10.8h-3.2zM122.02 264.13h3.2v10.8h-3.2zM126.20 264.13h3.2v10.8h-3.2zM130.38 264.13h3.2v10.8h-3.2zM134.56 264.13h3.2v10.8h-3.2zM138.74 264.13h3.2v10.8h-3.2zM142.92 264.13h3.2v10.8h-3.2zM147.10 264.13h3.2v10.8h-3.2zM151.28 264.13h3.2v10.8h-3.2zM155.46 264.13h3.2v10.8h-3.2zM159.64 264.13h3.2v10.8h-3.2zM163.82 264.13h3.2v10.8h-3.2zM168.00 264.13h3.2v10.8h-3.2zM172.18 264.13h3.2v10.8h-3.2zM176.36 264.13h3.2v10.8h-3.2zM180.54 264.13h3.2v10.8h-3.2zM184.72 264.13h3.2v10.8h-3.2zM188.90 264.13h3.2v10.8h-3.2zM193.08 264.13h3.2v10.8h-3.2zM197.26 264.13h3.2v10.8h-3.2zM201.44 264.13h3.2v10.8h-3.2zM205.62 264.13h3.2v10.8h-3.2zM213.98 264.13h3.2v10.8h-3.2zM218.16 264.13h3.2v10.8h-3.2zM222.34 264.13h3.2v10.8h-3.2zM230.70 264.13h3.2v10.8h-3.2zM234.88 264.13h3.2v10.8h-3.2zM243.24 264.13h3.2v10.8h-3.2zM247.42 264.13h3.2v10.8h-3.2zM251.60 264.13h3.2v10.8h-3.2zM255.78 264.13h3.2v10.8h-3.2zM259.96 264.13h3.2v10.8h-3.2zM264.14 264.13h3.2v10.8h-3.2zM268.32 264.13h3.2v10.8h-3.2zM276.68 264.13h3.2v10.8h-3.2zM285.04 264.13h3.2v10.8h-3.2zM289.22 264.13h3.2v10.8h-3.2zM293.40 264.13h3.2v10.8h-3.2zM297.58 264.13h3.2v10.8h-3.2zM301.76 264.13h3.2v10.8h-3.2zM305.94 264.13h3.2v10.8h-3.2zM310.12 264.13h3.2v10.8h-3.2zM314.30 264.13h3.2v10.8h-3.2zM318.48 264.13h3.2v10.8h-3.2zM322.66 264.13h3.2v10.8h-3.2zM326.84 264.13h3.2v10.8h-3.2zM331.02 264.13h3.2v10.8h-3.2zM335.20 264.13h3.2v10.8h-3.2zM339.38 264.13h3.2v10.8h-3.2zM343.56 264.13h3.2v10.8h-3.2zM347.74 264.13h3.2v10.8h-3.2zM351.92 264.13h3.2v10.8h-3.2zM356.10 264.13h3.2v10.8h-3.2zM360.28 264.13h3.2v10.8h-3.2zM364.46 264.13h3.2v10.8h-3.2zM368.64 264.13h3.2v10.8h-3.2zM372.82 264.13h3.2v10.8h-3.2zM377.00 264.13h3.2v10.8h-3.2zM381.18 264.13h3.2v10.8h-3.2zM385.36 264.13h3.2v10.8h-3.2zM389.54 264.13h3.2v10.8h-3.2zM397.90 264.13h3.2v10.8h-3.2zM402.08 264.13h3.2v10.8h-3.2zM406.26 264.13h3.2v10.8h-3.2zM410.44 264.13h3.2v10.8h-3.2zM414.62 264.13h3.2v10.8h-3.2zM418.80 264.13h3.2v10.8h-3.2zM422.98 264.13h3.2v10.8h-3.2zM427.16 264.13h3.2v10.8h-3.2zM42.60 276.26h3.2v10.8h-3.2zM46.78 276.26h3.2v10.8h-3.2zM50.96 276.26h3.2v10.8h-3.2zM55.14 276.26h3.2v10.8h-3.2zM63.50 276.26h3.2v10.8h-3.2zM67.68 276.26h3.2v10.8h-3.2zM71.86 276.26h3.2v10.8h-3.2zM76.04 276.26h3.2v10.8h-3.2zM80.22 276.26h3.2v10.8h-3.2zM84.40 276.26h3.2v10.8h-3.2zM88.58 276.26h3.2v10.8h-3.2zM92.76 276.26h3.2v10.8h-3.2zM96.94 276.26h3.2v10.8h-3.2zM101.12 276.26h3.2v10.8h-3.2zM105.30 276.26h3.2v10.8h-3.2zM109.48 276.26h3.2v10.8h-3.2zM113.66 276.26h3.2v10.8h-3.2zM117.84 276.26h3.2v10.8h-3.2zM122.02 276.26h3.2v10.8h-3.2zM126.20 276.26h3.2v10.8h-3.2zM130.38 276.26h3.2v10.8h-3.2zM134.56 276.26h3.2v10.8h-3.2zM138.74 276.26h3.2v10.8h-3.2zM142.92 276.26h3.2v10.8h-3.2zM147.10 276.26h3.2v10.8h-3.2zM151.28 276.26h3.2v10.8h-3.2zM155.46 276.26h3.2v10.8h-3.2zM159.64 276.26h3.2v10.8h-3.2zM163.82 276.26h3.2v10.8h-3.2zM168.00 276.26h3.2v10.8h-3.2zM172.18 276.26h3.2v10.8h-3.2zM176.36 276.26h3.2v10.8h-3.2zM180.54 276.26h3.2v10.8h-3.2zM188.90 276.26h3.2v10.8h-3.2zM193.08 276.26h3.2v10.8h-3.2zM197.26 276.26h3.2v10.8h-3.2zM201.44 276.26h3.2v10.8h-3.2zM205.62 276.26h3.2v10.8h-3.2zM209.80 276.26h3.2v10.8h-3.2zM213.98 276.26h3.2v10.8h-3.2zM222.34 276.26h3.2v10.8h-3.2zM226.52 276.26h3.2v10.8h-3.2zM230.70 276.26h3.2v10.8h-3.2zM234.88 276.26h3.2v10.8h-3.2zM239.06 276.26h3.2v10.8h-3.2zM243.24 276.26h3.2v10.8h-3.2zM247.42 276.26h3.2v10.8h-3.2zM251.60 276.26h3.2v10.8h-3.2zM255.78 276.26h3.2v10.8h-3.2zM259.96 276.26h3.2v10.8h-3.2zM264.14 276.26h3.2v10.8h-3.2zM272.50 276.26h3.2v10.8h-3.2zM280.86 276.26h3.2v10.8h-3.2zM285.04 276.26h3.2v10.8h-3.2zM289.22 276.26h3.2v10.8h-3.2zM293.40 276.26h3.2v10.8h-3.2zM297.58 276.26h3.2v10.8h-3.2zM301.76 276.26h3.2v10.8h-3.2zM305.94 276.26h3.2v10.8h-3.2zM310.12 276.26h3.2v10.8h-3.2zM314.30 276.26h3.2v10.8h-3.2zM318.48 276.26h3.2v10.8h-3.2zM326.84 276.26h3.2v10.8h-3.2zM331.02 276.26h3.2v10.8h-3.2zM335.20 276.26h3.2v10.8h-3.2zM339.38 276.26h3.2v10.8h-3.2zM343.56 276.26h3.2v10.8h-3.2zM347.74 276.26h3.2v10.8h-3.2zM351.92 276.26h3.2v10.8h-3.2zM356.10 276.26h3.2v10.8h-3.2zM360.28 276.26h3.2v10.8h-3.2zM364.46 276.26h3.2v10.8h-3.2zM368.64 276.26h3.2v10.8h-3.2zM372.82 276.26h3.2v10.8h-3.2zM377.00 276.26h3.2v10.8h-3.2zM381.18 276.26h3.2v10.8h-3.2zM385.36 276.26h3.2v10.8h-3.2zM389.54 276.26h3.2v10.8h-3.2zM393.72 276.26h3.2v10.8h-3.2zM397.90 276.26h3.2v10.8h-3.2zM402.08 276.26h3.2v10.8h-3.2zM406.26 276.26h3.2v10.8h-3.2zM410.44 276.26h3.2v10.8h-3.2zM414.62 276.26h3.2v10.8h-3.2zM418.80 276.26h3.2v10.8h-3.2zM422.98 276.26h3.2v10.8h-3.2zM427.16 276.26h3.2v10.8h-3.2z"/>
<path fill="#F4C026" d="M42.60 9.40h3.2v10.8h-3.2zM46.78 9.40h3.2v10.8h-3.2zM50.96 9.40h3.2v10.8h-3.2zM55.14 9.40h3.2v10.8h-3.2zM59.32 9.40h3.2v10.8h-3.2zM63.50 9.40h3.2v10.8h-3.2zM67.68 9.40h3.2v10.8h-3.2zM71.86 9.40h3.2v10.8h-3.2zM76.04 9.40h3.2v10.8h-3.2zM80.22 9.40h3.2v10.8h-3.2zM88.58 9.40h3.2v10.8h-3.2zM92.76 9.40h3.2v10.8h-3.2zM105.30 9.40h3.2v10.8h-3.2zM113.66 9.40h3.2v10.8h-3.2zM117.84 9.40h3.2v10.8h-3.2zM122.02 9.40h3.2v10.8h-3.2zM126.20 9.40h3.2v10.8h-3.2zM130.38 9.40h3.2v10.8h-3.2zM138.74 9.40h3.2v10.8h-3.2zM142.92 9.40h3.2v10.8h-3.2zM147.10 9.40h3.2v10.8h-3.2zM155.46 9.40h3.2v10.8h-3.2zM159.64 9.40h3.2v10.8h-3.2zM163.82 9.40h3.2v10.8h-3.2zM172.18 9.40h3.2v10.8h-3.2zM180.54 9.40h3.2v10.8h-3.2zM184.72 9.40h3.2v10.8h-3.2zM188.90 9.40h3.2v10.8h-3.2zM193.08 9.40h3.2v10.8h-3.2zM201.44 9.40h3.2v10.8h-3.2zM205.62 9.40h3.2v10.8h-3.2zM213.98 9.40h3.2v10.8h-3.2zM218.16 9.40h3.2v10.8h-3.2zM230.70 9.40h3.2v10.8h-3.2zM234.88 9.40h3.2v10.8h-3.2zM239.06 9.40h3.2v10.8h-3.2zM243.24 9.40h3.2v10.8h-3.2zM247.42 9.40h3.2v10.8h-3.2zM251.60 9.40h3.2v10.8h-3.2zM255.78 9.40h3.2v10.8h-3.2zM264.14 9.40h3.2v10.8h-3.2zM268.32 9.40h3.2v10.8h-3.2zM276.68 9.40h3.2v10.8h-3.2zM280.86 9.40h3.2v10.8h-3.2zM285.04 9.40h3.2v10.8h-3.2zM297.58 9.40h3.2v10.8h-3.2zM301.76 9.40h3.2v10.8h-3.2zM305.94 9.40h3.2v10.8h-3.2zM310.12 9.40h3.2v10.8h-3.2zM314.30 9.40h3.2v10.8h-3.2zM318.48 9.40h3.2v10.8h-3.2zM331.02 9.40h3.2v10.8h-3.2zM335.20 9.40h3.2v10.8h-3.2zM339.38 9.40h3.2v10.8h-3.2zM356.10 9.40h3.2v10.8h-3.2zM360.28 9.40h3.2v10.8h-3.2zM364.46 9.40h3.2v10.8h-3.2zM389.54 9.40h3.2v10.8h-3.2zM393.72 9.40h3.2v10.8h-3.2zM397.90 9.40h3.2v10.8h-3.2zM402.08 9.40h3.2v10.8h-3.2zM406.26 9.40h3.2v10.8h-3.2zM410.44 9.40h3.2v10.8h-3.2zM414.62 9.40h3.2v10.8h-3.2zM422.98 9.40h3.2v10.8h-3.2z"/>
<path fill="#55A043" d="M84.40 9.40h3.2v10.8h-3.2zM96.94 9.40h3.2v10.8h-3.2zM101.12 9.40h3.2v10.8h-3.2zM109.48 9.40h3.2v10.8h-3.2zM134.56 9.40h3.2v10.8h-3.2zM151.28 9.40h3.2v10.8h-3.2zM168.00 9.40h3.2v10.8h-3.2zM176.36 9.40h3.2v10.8h-3.2zM197.26 9.40h3.2v10.8h-3.2zM209.80 9.40h3.2v10.8h-3.2zM222.34 9.40h3.2v10.8h-3.2zM226.52 9.40h3.2v10.8h-3.2zM259.96 9.40h3.2v10.8h-3.2zM272.50 9.40h3.2v10.8h-3.2zM289.22 9.40h3.2v10.8h-3.2zM293.40 9.40h3.2v10.8h-3.2zM322.66 9.40h3.2v10.8h-3.2zM326.84 9.40h3.2v10.8h-3.2zM343.56 9.40h3.2v10.8h-3.2zM347.74 9.40h3.2v10.8h-3.2zM351.92 9.40h3.2v10.8h-3.2zM368.64 9.40h3.2v10.8h-3.2zM372.82 9.40h3.2v10.8h-3.2zM377.00 9.40h3.2v10.8h-3.2zM381.18 9.40h3.2v10.8h-3.2zM385.36 9.40h3.2v10.8h-3.2zM427.16 9.40h3.2v10.8h-3.2z"/>
<path fill="#BCC034" d="M418.80 9.40h3.2v10.8h-3.2z"/>
<rect x="432" y="22.58" width="26.30" height="8.3" fill="#3D68B8"/>
<rect x="432" y="34.71" width="13.15" height="8.3" fill="#3D68B8"/>
<rect x="432" y="46.84" width="40.77" height="8.3" fill="#3D68B8"/>
<rect x="432" y="58.97" width="22.36" height="8.3" fill="#3D68B8"/>
<rect x="432" y="71.10" width="17.09" height="8.3" fill="#3D68B8"/>
<rect x="432" y="83.23" width="28.93" height="8.3" fill="#3D68B8"/>
<rect x="432" y="95.36" width="15.78" height="8.3" fill="#3D68B8"/>
<rect x="432" y="107.49" width="13.15" height="8.3" fill="#3D68B8"/>
<rect x="432" y="119.62" width="9.21" height="8.3" fill="#3D68B8"/>
<rect x="432" y="131.75" width="7.89" height="8.3" fill="#3D68B8"/>
<rect x="432" y="143.88" width="14.46" height="8.3" fill="#3D68B8"/>
<rect x="432" y="156.01" width="11.83" height="8.3" fill="#3D68B8"/>
<rect x="432" y="168.14" width="11.83" height="8.3" fill="#3D68B8"/>
<rect x="432" y="180.27" width="10.52" height="8.3" fill="#3D68B8"/>
<rect x="432" y="192.40" width="10.52" height="8.3" fill="#3D68B8"/>
<rect x="432" y="204.53" width="10.52" height="8.3" fill="#3D68B8"/>
<rect x="432" y="216.66" width="9.21" height="8.3" fill="#3D68B8"/>
<rect x="432" y="228.79" width="9.21" height="8.3" fill="#3D68B8"/>
<rect x="432" y="240.92" width="9.21" height="8.3" fill="#3D68B8"/>
<rect x="432" y="253.05" width="9.21" height="8.3" fill="#3D68B8"/>
<rect x="432" y="265.18" width="7.89" height="8.3" fill="#3D68B8"/>
<rect x="432" y="277.31" width="7.89" height="8.3" fill="#3D68B8"/>
<circle cx="48.38" cy="3.6" r="1.3" fill="#222"/>
<circle cx="52.56" cy="3.6" r="1.3" fill="#222"/>
<circle cx="65.10" cy="3.6" r="1.3" fill="#222"/>
<circle cx="73.46" cy="3.6" r="1.3" fill="#222"/>
<circle cx="94.36" cy="3.6" r="1.3" fill="#222"/>
<circle cx="106.90" cy="3.6" r="1.3" fill="#222"/>
<circle cx="119.44" cy="3.6" r="1.3" fill="#222"/>
<circle cx="140.34" cy="3.6" r="1.3" fill="#222"/>
<circle cx="144.52" cy="3.6" r="1.3" fill="#222"/>
<circle cx="157.06" cy="3.6" r="1.3" fill="#222"/>
<circle cx="161.24" cy="3.6" r="1.3" fill="#222"/>
<circle cx="186.32" cy="3.6" r="1.3" fill="#222"/>
<circle cx="215.58" cy="3.6" r="1.3" fill="#222"/>
<circle cx="249.02" cy="3.6" r="1.3" fill="#222"/>
<circle cx="257.38" cy="3.6" r="1.3" fill="#222"/>
<circle cx="269.92" cy="3.6" r="1.3" fill="#222"/>
<circle cx="299.18" cy="3.6" r="1.3" fill="#222"/>
<circle cx="311.72" cy="3.6" r="1.3" fill="#222"/>
<circle cx="340.98" cy="3.6" r="1.3" fill="#222"/>
<circle cx="416.22" cy="3.6" r="1.3" fill="#222"/>
<circle cx="424.58" cy="3.6" r="1.3" fill="#222"/>
<rect x="42" y="295" width="4.2" height="11.5" fill="#3D68B8"/>
<rect x="88" y="295" width="4.4" height="11.5" fill="#DEDEDE"/>
<rect x="129.8" y="295" width="4.4" height="11.5" fill="#F4C026"/>
<rect x="176" y="295" width="4.2" height="11.5" fill="#55A043"/>
<circle cx="229.8" cy="299" r="1.2" fill="#222"/>
<rect x="515.3" y="81.6" width="1.5" height="12" rx="0.7" fill="#c4c4c4"/>
<g style="filter:grayscale(1)"><text x="21.0" y="18.45" textLength="19.2" lengthAdjust="spacingAndGlyphs" class="lab">Gene</text>
<text x="15.5" y="30.55" textLength="24.7" lengthAdjust="spacingAndGlyphs" class="lab">DDX3X</text>
<text x="22.5" y="42.65" textLength="17.7" lengthAdjust="spacingAndGlyphs" class="lab">TP53</text>
<text x="17.2" y="54.75" textLength="23.0" lengthAdjust="spacingAndGlyphs" class="lab">STAT3</text>
<text x="13.5" y="66.85" textLength="26.7" lengthAdjust="spacingAndGlyphs" class="lab">KMT2D</text>
<text x="22.0" y="78.95" textLength="18.2" lengthAdjust="spacingAndGlyphs" class="lab">MGA</text>
<text x="19.8" y="91.05" textLength="20.4" lengthAdjust="spacingAndGlyphs" class="lab">BCOR</text>
<text x="12.2" y="103.15" textLength="28.0" lengthAdjust="spacingAndGlyphs" class="lab">ARID1A</text>
<text x="13.0" y="115.25" textLength="27.2" lengthAdjust="spacingAndGlyphs" class="lab">PRDM1</text>
<text x="23.2" y="127.35" textLength="17.0" lengthAdjust="spacingAndGlyphs" class="lab">JAK3</text>
<text x="17.8" y="139.45" textLength="22.4" lengthAdjust="spacingAndGlyphs" class="lab">EP300</text>
<text x="16.8" y="151.55" textLength="23.4" lengthAdjust="spacingAndGlyphs" class="lab">MDN1</text>
<text x="14.0" y="163.65" textLength="26.2" lengthAdjust="spacingAndGlyphs" class="lab">DMXL2</text>
<text x="13.8" y="175.75" textLength="26.4" lengthAdjust="spacingAndGlyphs" class="lab">KMT2C</text>
<text x="23.2" y="187.85" textLength="17.0" lengthAdjust="spacingAndGlyphs" class="lab">ATM</text>
<text x="18.0" y="199.95" textLength="22.2" lengthAdjust="spacingAndGlyphs" class="lab">HLA-A</text>
<text x="11.8" y="212.05" textLength="28.4" lengthAdjust="spacingAndGlyphs" class="lab">RNF213</text>
<text x="18.8" y="224.15" textLength="21.4" lengthAdjust="spacingAndGlyphs" class="lab">BIRC6</text>
<text x="21.2" y="236.25" textLength="19.0" lengthAdjust="spacingAndGlyphs" class="lab">CIITA</text>
<text x="14.0" y="248.35" textLength="26.2" lengthAdjust="spacingAndGlyphs" class="lab">NCOR2</text>
<text x="23.0" y="260.45" textLength="17.2" lengthAdjust="spacingAndGlyphs" class="lab">TET2</text>
<text x="15.0" y="272.55" textLength="25.2" lengthAdjust="spacingAndGlyphs" class="lab">DOCK2</text>
<text x="13.0" y="284.65" textLength="27.2" lengthAdjust="spacingAndGlyphs" class="lab">SAMD9</text>
<text x="458.0" y="30.03" textLength="14.8" lengthAdjust="spacingAndGlyphs" class="pct">19%</text>
<text x="457.8" y="42.16" textLength="15.0" lengthAdjust="spacingAndGlyphs" class="pct">10%</text>
<text x="457.8" y="54.29" textLength="15.0" lengthAdjust="spacingAndGlyphs" class="pct">30%</text>
<text x="457.8" y="66.42" textLength="15.0" lengthAdjust="spacingAndGlyphs" class="pct">16%</text>
<text x="457.8" y="78.55" textLength="15.0" lengthAdjust="spacingAndGlyphs" class="pct">12%</text>
<text x="457.8" y="90.68" textLength="15.0" lengthAdjust="spacingAndGlyphs" class="pct">21%</text>
<text x="457.8" y="102.81" textLength="15.0" lengthAdjust="spacingAndGlyphs" class="pct">11%</text>
<text x="457.8" y="114.94" textLength="15.0" lengthAdjust="spacingAndGlyphs" class="pct">10%</text>
<text x="462.4" y="127.07" textLength="10.4" lengthAdjust="spacingAndGlyphs" class="pct">7%</text>
<text x="462.4" y="139.20" textLength="10.4" lengthAdjust="spacingAndGlyphs" class="pct">6%</text>
<text x="457.8" y="151.33" textLength="15.0" lengthAdjust="spacingAndGlyphs" class="pct">10%</text>
<text x="462.4" y="163.46" textLength="10.4" lengthAdjust="spacingAndGlyphs" class="pct">9%</text>
<text x="462.4" y="175.59" textLength="10.4" lengthAdjust="spacingAndGlyphs" class="pct">9%</text>
<text x="462.4" y="187.72" textLength="10.4" lengthAdjust="spacingAndGlyphs" class="pct">8%</text>
<text x="462.4" y="199.85" textLength="10.4" lengthAdjust="spacingAndGlyphs" class="pct">8%</text>
<text x="462.4" y="211.98" textLength="10.4" lengthAdjust="spacingAndGlyphs" class="pct">8%</text>
<text x="462.4" y="224.11" textLength="10.4" lengthAdjust="spacingAndGlyphs" class="pct">7%</text>
<text x="462.4" y="236.24" textLength="10.4" lengthAdjust="spacingAndGlyphs" class="pct">7%</text>
<text x="462.4" y="248.37" textLength="10.4" lengthAdjust="spacingAndGlyphs" class="pct">7%</text>
<text x="462.4" y="260.50" textLength="10.4" lengthAdjust="spacingAndGlyphs" class="pct">7%</text>
<text x="462.4" y="272.63" textLength="10.4" lengthAdjust="spacingAndGlyphs" class="pct">6%</text>
<text x="462.4" y="284.76" textLength="10.4" lengthAdjust="spacingAndGlyphs" class="pct">6%</text>
<text x="2.2" y="6.0" textLength="37.8" lengthAdjust="spacingAndGlyphs" class="ps">Poor Survival*</text>
<text x="52.8" y="303.6" textLength="31.2" lengthAdjust="spacingAndGlyphs" class="leg">Mutated</text>
<text x="98.5" y="303.6" textLength="27.5" lengthAdjust="spacingAndGlyphs" class="leg">Normal</text>
<text x="140" y="303.6" textLength="29" lengthAdjust="spacingAndGlyphs" class="leg">Chinese</text>
<text x="186" y="303.6" textLength="31" lengthAdjust="spacingAndGlyphs" class="leg">Hispanic</text>
<text x="235.8" y="303.6" textLength="29.1" lengthAdjust="spacingAndGlyphs" class="leg">Survival</text>
<text x="267.5" y="303.6" textLength="14.7" lengthAdjust="spacingAndGlyphs" class="leg">data</text>
<text x="284.8" y="303.6" textLength="9.2" lengthAdjust="spacingAndGlyphs" class="leg">are</text>
<text x="296.4" y="303.6" textLength="11.7" lengthAdjust="spacingAndGlyphs" class="leg">only</text>
<text x="310.3" y="303.6" textLength="30.2" lengthAdjust="spacingAndGlyphs" class="leg">availble</text>
<text x="343.1" y="303.6" textLength="9.5" lengthAdjust="spacingAndGlyphs" class="leg">for</text>
<text x="355.8" y="303.6" textLength="28.5" lengthAdjust="spacingAndGlyphs" class="leg">Chinese</text>
<text x="387.1" y="303.6" textLength="25.8" lengthAdjust="spacingAndGlyphs" class="leg">cases</text></g>
</svg>
</body></html>
